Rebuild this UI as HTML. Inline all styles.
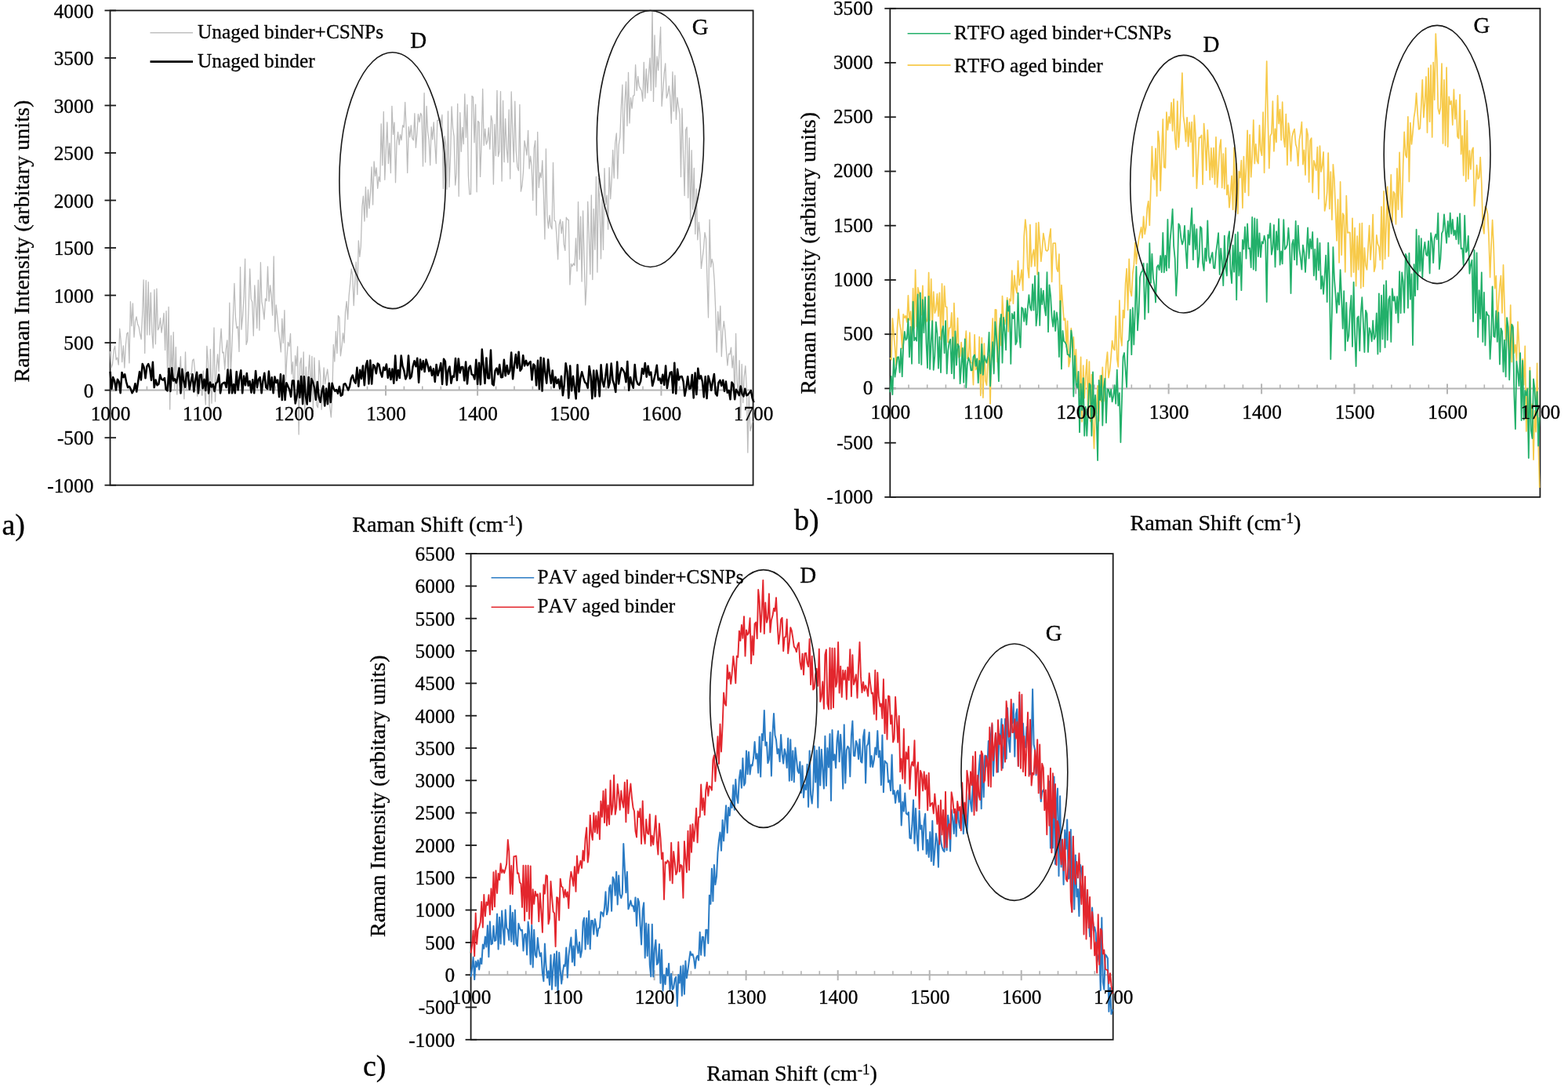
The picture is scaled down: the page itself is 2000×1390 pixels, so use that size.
<!DOCTYPE html>
<html><head><meta charset="utf-8"><title>Raman spectra</title><style>html,body{margin:0;padding:0;background:#fff;}svg{display:block;}text{font-kerning:none;stroke:#000;stroke-width:0.3px;}</style></head><body>
<svg width="2000" height="1390" viewBox="0 0 2000 1390">
<rect width="2000" height="1390" fill="#ffffff"/>
<rect x="140.5" y="13.4" width="820.1" height="605.3" fill="none" stroke="#1a1a1a" stroke-width="1.8"/>
<line x1="133.5" y1="618.7" x2="148.0" y2="618.7" stroke="#1a1a1a" stroke-width="1.8"/>
<line x1="133.5" y1="558.2" x2="148.0" y2="558.2" stroke="#1a1a1a" stroke-width="1.8"/>
<line x1="133.5" y1="497.6" x2="148.0" y2="497.6" stroke="#1a1a1a" stroke-width="1.8"/>
<line x1="133.5" y1="437.1" x2="148.0" y2="437.1" stroke="#1a1a1a" stroke-width="1.8"/>
<line x1="133.5" y1="376.6" x2="148.0" y2="376.6" stroke="#1a1a1a" stroke-width="1.8"/>
<line x1="133.5" y1="316.1" x2="148.0" y2="316.1" stroke="#1a1a1a" stroke-width="1.8"/>
<line x1="133.5" y1="255.5" x2="148.0" y2="255.5" stroke="#1a1a1a" stroke-width="1.8"/>
<line x1="133.5" y1="195.0" x2="148.0" y2="195.0" stroke="#1a1a1a" stroke-width="1.8"/>
<line x1="133.5" y1="134.5" x2="148.0" y2="134.5" stroke="#1a1a1a" stroke-width="1.8"/>
<line x1="133.5" y1="73.9" x2="148.0" y2="73.9" stroke="#1a1a1a" stroke-width="1.8"/>
<line x1="133.5" y1="13.4" x2="148.0" y2="13.4" stroke="#1a1a1a" stroke-width="1.8"/>
<line x1="141.5" y1="497.6" x2="959.6" y2="497.6" stroke="#b4b4b4" stroke-width="2"/>
<line x1="163.9" y1="492.6" x2="163.9" y2="497.6" stroke="#b4b4b4" stroke-width="1.6"/>
<line x1="187.4" y1="492.6" x2="187.4" y2="497.6" stroke="#b4b4b4" stroke-width="1.6"/>
<line x1="210.8" y1="492.6" x2="210.8" y2="497.6" stroke="#b4b4b4" stroke-width="1.6"/>
<line x1="234.2" y1="492.6" x2="234.2" y2="497.6" stroke="#b4b4b4" stroke-width="1.6"/>
<line x1="257.7" y1="491.6" x2="257.7" y2="504.6" stroke="#b4b4b4" stroke-width="2"/>
<line x1="281.1" y1="492.6" x2="281.1" y2="497.6" stroke="#b4b4b4" stroke-width="1.6"/>
<line x1="304.5" y1="492.6" x2="304.5" y2="497.6" stroke="#b4b4b4" stroke-width="1.6"/>
<line x1="328.0" y1="492.6" x2="328.0" y2="497.6" stroke="#b4b4b4" stroke-width="1.6"/>
<line x1="351.4" y1="492.6" x2="351.4" y2="497.6" stroke="#b4b4b4" stroke-width="1.6"/>
<line x1="374.8" y1="491.6" x2="374.8" y2="504.6" stroke="#b4b4b4" stroke-width="2"/>
<line x1="398.2" y1="492.6" x2="398.2" y2="497.6" stroke="#b4b4b4" stroke-width="1.6"/>
<line x1="421.7" y1="492.6" x2="421.7" y2="497.6" stroke="#b4b4b4" stroke-width="1.6"/>
<line x1="445.1" y1="492.6" x2="445.1" y2="497.6" stroke="#b4b4b4" stroke-width="1.6"/>
<line x1="468.5" y1="492.6" x2="468.5" y2="497.6" stroke="#b4b4b4" stroke-width="1.6"/>
<line x1="492.0" y1="491.6" x2="492.0" y2="504.6" stroke="#b4b4b4" stroke-width="2"/>
<line x1="515.4" y1="492.6" x2="515.4" y2="497.6" stroke="#b4b4b4" stroke-width="1.6"/>
<line x1="538.8" y1="492.6" x2="538.8" y2="497.6" stroke="#b4b4b4" stroke-width="1.6"/>
<line x1="562.3" y1="492.6" x2="562.3" y2="497.6" stroke="#b4b4b4" stroke-width="1.6"/>
<line x1="585.7" y1="492.6" x2="585.7" y2="497.6" stroke="#b4b4b4" stroke-width="1.6"/>
<line x1="609.1" y1="491.6" x2="609.1" y2="504.6" stroke="#b4b4b4" stroke-width="2"/>
<line x1="632.6" y1="492.6" x2="632.6" y2="497.6" stroke="#b4b4b4" stroke-width="1.6"/>
<line x1="656.0" y1="492.6" x2="656.0" y2="497.6" stroke="#b4b4b4" stroke-width="1.6"/>
<line x1="679.4" y1="492.6" x2="679.4" y2="497.6" stroke="#b4b4b4" stroke-width="1.6"/>
<line x1="702.9" y1="492.6" x2="702.9" y2="497.6" stroke="#b4b4b4" stroke-width="1.6"/>
<line x1="726.3" y1="491.6" x2="726.3" y2="504.6" stroke="#b4b4b4" stroke-width="2"/>
<line x1="749.7" y1="492.6" x2="749.7" y2="497.6" stroke="#b4b4b4" stroke-width="1.6"/>
<line x1="773.1" y1="492.6" x2="773.1" y2="497.6" stroke="#b4b4b4" stroke-width="1.6"/>
<line x1="796.6" y1="492.6" x2="796.6" y2="497.6" stroke="#b4b4b4" stroke-width="1.6"/>
<line x1="820.0" y1="492.6" x2="820.0" y2="497.6" stroke="#b4b4b4" stroke-width="1.6"/>
<line x1="843.4" y1="491.6" x2="843.4" y2="504.6" stroke="#b4b4b4" stroke-width="2"/>
<line x1="866.9" y1="492.6" x2="866.9" y2="497.6" stroke="#b4b4b4" stroke-width="1.6"/>
<line x1="890.3" y1="492.6" x2="890.3" y2="497.6" stroke="#b4b4b4" stroke-width="1.6"/>
<line x1="913.7" y1="492.6" x2="913.7" y2="497.6" stroke="#b4b4b4" stroke-width="1.6"/>
<line x1="937.2" y1="492.6" x2="937.2" y2="497.6" stroke="#b4b4b4" stroke-width="1.6"/>
<path d="M140.5 448.0L142.0 468.9L143.5 464.5L145.1 446.5L146.6 441.5L148.1 458.8L149.6 456.0L151.2 465.2L152.7 419.2L154.2 434.7L155.7 461.7L157.3 440.9L158.8 469.0L160.3 440.5L161.8 425.5L163.3 423.9L164.9 462.9L166.4 384.7L167.9 415.7L169.4 386.8L171.0 430.0L172.5 409.8L174.0 403.8L175.5 412.9L177.1 416.9L178.6 426.0L180.1 432.7L181.6 401.5L183.1 356.8L184.7 450.4L186.2 357.6L187.7 427.1L189.2 359.7L190.8 427.1L192.3 373.1L193.8 423.2L195.3 443.9L196.9 369.4L198.4 438.8L199.9 368.1L201.4 420.8L202.9 417.9L204.5 405.7L206.0 424.2L207.5 413.7L209.0 399.3L210.6 446.4L212.1 396.7L213.6 474.8L215.1 391.5L216.7 522.0L218.2 427.8L219.7 483.0L221.2 423.6L222.7 496.3L224.3 442.6L225.8 503.1L227.3 468.2L228.8 477.7L230.4 454.6L231.9 499.2L233.4 472.6L234.9 508.7L236.5 448.9L238.0 497.8L239.5 474.8L241.0 480.3L242.5 476.3L244.1 477.6L245.6 459.4L247.1 458.0L248.6 472.9L250.2 489.8L251.7 505.2L253.2 485.5L254.7 497.1L256.3 485.2L257.8 489.0L259.3 472.8L260.8 496.8L262.3 516.0L263.9 441.4L265.4 462.8L266.9 524.3L268.4 445.5L270.0 514.3L271.5 475.6L273.0 417.9L274.5 512.0L276.1 469.7L277.6 451.9L279.1 473.5L280.6 439.2L282.1 419.1L283.7 449.9L285.2 449.1L286.7 471.2L288.2 445.9L289.8 433.8L291.3 480.0L292.8 386.2L294.3 476.1L295.9 440.2L297.4 402.4L298.9 361.4L300.4 404.3L301.9 418.7L303.5 416.4L305.0 448.4L306.5 340.6L308.0 420.2L309.6 402.8L311.1 378.0L312.6 330.2L314.1 439.6L315.6 434.5L317.2 391.4L318.7 342.9L320.2 381.4L321.7 385.1L323.3 428.2L324.8 363.9L326.3 387.5L327.8 418.6L329.4 357.1L330.9 421.2L332.4 334.7L333.9 384.9L335.4 393.1L337.0 407.1L338.5 380.8L340.0 383.7L341.5 339.8L343.1 384.2L344.6 363.9L346.1 376.7L347.6 402.1L349.2 327.0L350.7 422.8L352.2 388.9L353.7 403.4L355.2 420.9L356.8 433.4L358.3 448.9L359.8 406.5L361.3 437.4L362.9 395.7L364.4 485.0L365.9 455.9L367.4 436.4L369.0 441.7L370.5 425.4L372.0 477.0L373.5 461.6L375.0 510.0L376.6 453.6L378.1 466.6L379.6 442.0L381.1 554.0L382.7 463.5L384.2 456.4L385.7 505.1L387.2 448.8L388.8 525.9L390.3 467.9L391.8 511.0L393.3 474.7L394.8 452.8L396.4 506.7L397.9 454.5L399.4 524.4L400.9 456.2L402.5 500.4L404.0 517.0L405.5 519.7L407.0 459.6L408.6 478.1L410.1 522.3L411.6 501.7L413.1 468.9L414.6 489.6L416.2 479.1L417.7 471.0L419.2 486.0L420.7 518.3L422.3 532.0L423.8 505.9L425.3 439.4L426.8 461.0L428.4 422.7L429.9 450.6L431.4 402.5L432.9 405.1L434.4 453.8L436.0 441.7L437.5 425.0L439.0 437.2L440.5 397.9L442.1 384.3L443.6 407.1L445.1 377.0L446.6 361.9L448.2 343.0L449.7 351.0L451.2 389.6L452.7 360.9L454.2 334.2L455.8 375.7L457.3 306.8L458.8 327.4L460.3 314.2L461.9 263.2L463.4 250.1L464.9 282.1L466.4 238.3L468.0 277.2L469.5 242.0L471.0 265.6L472.5 245.7L474.0 213.0L475.6 261.1L477.1 205.9L478.6 224.5L480.1 213.9L481.7 240.3L483.2 225.5L484.7 231.7L486.2 157.8L487.8 210.8L489.3 142.5L490.8 229.3L492.3 193.3L493.8 155.9L495.4 208.5L496.9 182.6L498.4 220.5L499.9 135.3L501.5 171.4L503.0 156.1L504.5 232.8L506.0 182.4L507.6 168.3L509.1 184.6L510.6 171.7L512.1 178.5L513.6 159.9L515.2 162.3L516.7 130.5L518.2 165.0L519.7 220.4L521.3 161.7L522.8 174.9L524.3 160.0L525.8 176.1L527.4 178.8L528.9 144.7L530.4 188.3L531.9 170.4L533.4 145.7L535.0 155.7L536.5 144.3L538.0 147.5L539.5 212.1L541.1 118.6L542.6 206.9L544.1 135.3L545.6 168.0L547.2 179.0L548.7 210.7L550.2 161.8L551.7 177.9L553.2 155.8L554.8 183.8L556.3 208.6L557.8 153.5L559.3 153.5L560.9 150.7L562.4 158.8L563.9 146.5L565.4 240.5L567.0 173.6L568.5 184.5L570.0 241.3L571.5 141.8L573.0 238.4L574.6 198.0L576.1 135.8L577.6 163.5L579.1 173.9L580.7 236.1L582.2 221.4L583.7 132.5L585.2 250.3L586.8 143.6L588.3 193.3L589.8 162.4L591.3 183.7L592.8 120.0L594.4 175.3L595.9 133.6L597.4 224.2L598.9 247.9L600.5 247.7L602.0 122.4L603.5 124.0L605.0 181.8L606.6 133.1L608.1 244.8L609.6 154.5L611.1 156.1L612.6 225.4L614.2 177.7L615.7 113.4L617.2 185.4L618.7 164.3L620.3 184.0L621.8 179.5L623.3 162.8L624.8 190.2L626.4 147.6L627.9 154.4L629.4 235.1L630.9 158.6L632.4 198.7L634.0 115.3L635.5 199.5L637.0 192.8L638.5 116.6L640.1 231.1L641.6 128.5L643.1 206.7L644.6 151.4L646.2 188.6L647.7 207.2L649.2 139.9L650.7 228.0L652.2 117.0L653.8 169.1L655.3 206.6L656.8 129.2L658.3 192.2L659.9 212.9L661.4 217.6L662.9 133.3L664.4 244.1L665.9 237.0L667.5 218.9L669.0 179.3L670.5 187.6L672.0 197.9L673.6 166.3L675.1 215.1L676.6 199.1L678.1 211.0L679.7 255.4L681.2 189.2L682.7 179.3L684.2 274.6L685.7 168.3L687.3 239.3L688.8 220.2L690.3 226.6L691.8 204.7L693.4 247.8L694.9 304.9L696.4 189.8L697.9 275.0L699.5 291.0L701.0 274.6L702.5 288.6L704.0 292.1L705.5 207.4L707.1 281.4L708.6 282.1L710.1 302.8L711.6 330.8L713.2 286.5L714.7 279.9L716.2 297.7L717.7 282.5L719.3 311.6L720.8 319.4L722.3 277.2L723.8 280.0L725.3 280.4L726.9 363.0L728.4 336.5L729.9 339.7L731.4 335.9L733.0 338.5L734.5 303.8L736.0 345.8L737.5 257.5L739.1 330.9L740.6 276.1L742.1 359.0L743.6 268.8L745.1 327.9L746.7 389.0L748.2 362.2L749.7 257.1L751.2 298.1L752.8 349.8L754.3 248.8L755.8 356.5L757.3 266.5L758.9 318.3L760.4 225.3L761.9 347.2L763.4 227.3L764.9 259.7L766.5 330.1L768.0 254.7L769.5 318.6L771.0 214.7L772.6 261.0L774.1 249.2L775.6 292.4L777.1 213.7L778.7 253.7L780.2 229.0L781.7 191.4L783.2 227.1L784.7 182.5L786.3 170.0L787.8 227.8L789.3 184.3L790.8 175.1L792.4 135.6L793.9 108.1L795.4 195.7L796.9 131.6L798.5 104.1L800.0 160.6L801.5 92.5L803.0 157.0L804.5 124.6L806.1 138.2L807.6 122.1L809.1 121.6L810.6 82.7L812.2 115.5L813.7 97.3L815.2 109.7L816.7 112.9L818.3 115.7L819.8 129.2L821.3 79.3L822.8 125.2L824.3 87.9L825.9 118.4L827.4 95.2L828.9 74.2L830.4 115.6L832.0 14.0L833.5 129.4L835.0 44.9L836.5 110.9L838.1 71.8L839.6 89.7L841.1 63.7L842.6 34.5L844.1 135.4L845.7 114.2L847.2 93.7L848.7 80.8L850.2 125.0L851.8 119.8L853.3 109.7L854.8 123.4L856.3 157.3L857.9 91.6L859.4 141.9L860.9 96.1L862.4 152.3L863.9 124.4L865.5 136.3L867.0 146.2L868.5 225.6L870.0 138.2L871.6 198.7L873.1 249.4L874.6 165.9L876.1 162.1L877.7 252.3L879.2 175.8L880.7 288.4L882.2 191.7L883.7 267.0L885.3 214.3L886.8 298.4L888.3 240.9L889.8 305.8L891.4 283.3L892.9 300.0L894.4 342.4L895.9 330.2L897.5 316.9L899.0 296.5L900.5 304.3L902.0 357.6L903.5 405.1L905.1 280.1L906.6 340.7L908.1 330.5L909.6 336.4L911.2 358.1L912.7 395.2L914.2 449.2L915.7 397.3L917.3 421.1L918.8 390.2L920.3 454.6L921.8 422.8L923.3 409.6L924.9 422.5L926.4 446.7L927.9 466.0L929.4 451.2L931.0 451.9L932.5 443.1L934.0 469.0L935.5 453.8L937.1 504.8L938.6 425.4L940.1 486.7L941.6 502.8L943.1 459.7L944.7 533.6L946.2 464.5L947.7 513.6L949.2 480.5L950.8 466.6L952.3 494.3L953.8 577.2L955.3 503.9L956.9 549.6L958.4 543.8L959.9 537.1" fill="none" stroke="#bcbcbc" stroke-width="1.3" stroke-linejoin="round" stroke-opacity="1.0"/>
<path d="M140.5 473.8L142.4 495.9L144.2 481.1L146.1 485.8L148.0 497.4L149.9 483.7L151.7 486.6L153.6 501.2L155.5 474.9L157.4 481.2L159.2 477.3L161.1 487.1L163.0 493.9L164.9 492.7L166.7 496.0L168.6 501.2L170.5 497.7L172.4 489.3L174.2 499.6L176.1 487.0L178.0 474.1L179.9 484.5L181.7 464.0L183.6 468.2L185.5 482.3L187.4 467.1L189.2 464.1L191.1 469.5L193.0 484.9L194.9 461.7L196.7 494.1L198.6 484.6L200.5 491.2L202.4 489.7L204.2 478.1L206.1 483.6L208.0 484.6L209.9 482.0L211.7 496.5L213.6 498.3L215.5 469.9L217.4 499.0L219.2 469.2L221.1 485.6L223.0 483.2L224.9 488.2L226.7 479.9L228.6 469.5L230.5 501.4L232.4 470.7L234.2 485.8L236.1 493.7L238.0 476.0L239.8 474.8L241.7 496.6L243.6 486.1L245.5 477.2L247.3 499.4L249.2 484.4L251.1 474.8L253.0 501.4L254.8 478.4L256.7 477.7L258.6 495.2L260.5 483.8L262.3 498.0L264.2 470.7L266.1 501.4L268.0 487.6L269.8 493.5L271.7 490.0L273.6 499.0L275.5 488.7L277.3 487.1L279.2 477.7L281.1 501.4L283.0 490.0L284.8 488.5L286.7 487.7L288.6 494.0L290.5 471.6L292.3 501.3L294.2 471.8L296.1 501.3L298.0 490.1L299.8 501.3L301.7 474.1L303.6 497.3L305.5 481.8L307.3 472.2L309.2 501.3L311.1 479.6L313.0 491.3L314.8 475.9L316.7 491.9L318.6 486.0L320.5 500.7L322.3 484.3L324.2 501.3L326.1 472.9L328.0 493.9L329.8 484.0L331.7 481.0L333.6 501.3L335.4 485.9L337.3 475.8L339.2 493.9L341.1 496.0L342.9 473.5L344.8 497.0L346.7 481.3L348.6 501.3L350.4 480.4L352.3 487.9L354.2 484.6L356.1 506.2L357.9 477.3L359.8 510.1L361.7 478.8L363.6 510.1L365.4 488.2L367.3 492.6L369.2 496.7L371.1 505.9L372.9 485.5L374.8 485.5L376.7 514.5L378.6 505.7L380.4 485.8L382.3 507.0L384.2 480.1L386.1 515.2L387.9 480.3L389.8 504.7L391.7 515.6L393.6 481.0L395.4 511.7L397.3 483.0L399.2 487.5L401.1 494.8L402.9 509.8L404.8 487.0L406.7 506.2L408.6 512.8L410.4 499.5L412.3 492.4L414.2 517.6L416.1 495.4L417.9 515.3L419.8 488.8L421.7 513.1L423.6 488.7L425.4 495.2L427.3 498.7L429.2 497.0L431.0 501.8L432.9 493.0L434.8 504.7L436.7 503.5L438.5 489.9L440.4 489.3L442.3 493.3L444.2 497.4L446.0 492.7L447.9 482.5L449.8 478.6L451.7 485.8L453.5 488.6L455.4 468.8L457.3 492.7L459.2 471.8L461.0 482.9L462.9 466.6L464.8 491.3L466.7 466.0L468.5 460.1L470.4 489.4L472.3 459.5L474.2 489.6L476.0 465.2L477.9 466.9L479.8 476.2L481.7 463.6L483.5 465.0L485.4 475.0L487.3 480.6L489.2 468.5L491.0 472.0L492.9 464.5L494.8 481.9L496.7 470.3L498.5 484.0L500.4 470.4L502.3 488.8L504.2 453.4L506.0 484.9L507.9 471.9L509.8 482.1L511.7 453.4L513.5 467.0L515.4 472.7L517.3 483.4L519.2 479.1L521.0 453.4L522.9 482.6L524.8 480.2L526.6 467.4L528.5 460.3L530.4 467.2L532.3 456.7L534.1 487.8L536.0 458.5L537.9 471.4L539.8 460.2L541.6 474.0L543.5 458.6L545.4 464.9L547.3 473.5L549.1 467.6L551.0 478.8L552.9 470.3L554.8 486.9L556.6 464.9L558.5 478.8L560.4 472.4L562.3 462.9L564.1 490.0L566.0 457.7L567.9 460.8L569.8 490.7L571.6 472.2L573.5 467.5L575.4 488.7L577.3 479.6L579.1 480.7L581.0 457.1L582.9 484.9L584.8 457.4L586.6 475.4L588.5 468.1L590.4 468.1L592.3 485.3L594.1 461.4L596.0 489.5L597.9 469.2L599.8 466.5L601.6 477.2L603.5 478.4L605.4 483.5L607.3 458.7L609.1 490.1L611.0 462.7L612.9 490.3L614.8 445.5L616.6 466.0L618.5 489.0L620.4 456.4L622.3 482.2L624.1 482.4L626.0 446.6L627.9 489.7L629.7 491.4L631.6 472.6L633.5 469.5L635.4 477.4L637.2 465.1L639.1 481.2L641.0 480.9L642.9 458.8L644.7 479.2L646.6 465.9L648.5 477.0L650.4 472.7L652.2 449.6L654.1 483.3L656.0 466.3L657.9 452.0L659.7 469.3L661.6 448.7L663.5 472.8L665.4 470.0L667.2 453.2L669.1 466.5L671.0 459.9L672.9 466.0L674.7 463.0L676.6 461.2L678.5 484.5L680.4 464.4L682.2 466.3L684.1 491.4L686.0 459.7L687.9 496.1L689.7 455.9L691.6 498.6L693.5 457.0L695.4 475.2L697.2 488.7L699.1 458.5L701.0 476.2L702.9 488.7L704.7 472.4L706.6 493.9L708.5 480.7L710.4 488.9L712.2 483.8L714.1 495.5L716.0 479.8L717.9 504.3L719.7 491.3L721.6 463.3L723.5 473.8L725.3 507.6L727.2 466.5L729.1 498.3L731.0 479.8L732.8 494.2L734.7 508.5L736.6 465.3L738.5 499.4L740.3 482.6L742.2 474.2L744.1 481.4L746.0 487.5L747.8 488.9L749.7 494.6L751.6 466.9L753.5 479.3L755.3 508.2L757.2 472.4L759.1 505.4L761.0 472.4L762.8 482.6L764.7 505.4L766.6 465.3L768.5 486.4L770.3 493.1L772.2 480.7L774.1 464.6L776.0 494.2L777.8 487.7L779.7 463.5L781.6 484.8L783.5 490.9L785.3 500.0L787.2 461.6L789.1 489.5L791.0 476.4L792.8 469.3L794.7 471.9L796.6 475.5L798.5 487.2L800.3 460.9L802.2 497.7L804.1 481.1L806.0 489.2L807.8 494.7L809.7 465.0L811.6 484.6L813.5 489.7L815.3 490.9L817.2 486.1L819.1 470.0L820.9 476.7L822.8 462.9L824.7 480.7L826.6 466.7L828.4 478.3L830.3 474.6L832.2 492.1L834.1 484.6L835.9 476.2L837.8 465.8L839.7 484.6L841.6 482.5L843.4 489.0L845.3 477.7L847.2 490.9L849.1 466.4L850.9 495.1L852.8 483.9L854.7 475.2L856.6 474.3L858.4 501.0L860.3 462.7L862.2 502.0L864.1 470.8L865.9 484.5L867.8 480.2L869.7 480.1L871.6 486.3L873.4 504.8L875.3 495.0L877.2 480.2L879.1 495.8L880.9 495.4L882.8 477.9L884.7 507.4L886.6 475.6L888.4 503.1L890.3 469.8L892.2 483.1L894.1 479.4L895.9 486.6L897.8 506.5L899.7 480.2L901.6 508.1L903.4 479.5L905.3 486.1L907.2 497.8L909.1 486.3L910.9 476.9L912.8 502.1L914.7 504.6L916.5 488.0L918.4 484.9L920.3 491.9L922.2 484.7L924.0 498.9L925.9 486.6L927.8 500.8L929.7 498.0L931.5 509.3L933.4 487.4L935.3 490.2L937.2 509.3L939.0 496.8L940.9 500.0L942.8 504.2L944.7 492.5L946.5 502.1L948.4 505.5L950.3 495.7L952.2 504.3L954.0 503.3L955.9 500.8L957.8 498.1L959.7 507.9L961.5 513.1" fill="none" stroke="#000000" stroke-width="2.5" stroke-linejoin="round" stroke-opacity="1.0"/>
<rect x="1135.3" y="10.8" width="829.1" height="623.1" fill="none" stroke="#1a1a1a" stroke-width="1.8"/>
<line x1="1128.3" y1="633.9" x2="1142.8" y2="633.9" stroke="#1a1a1a" stroke-width="1.8"/>
<line x1="1128.3" y1="564.7" x2="1142.8" y2="564.7" stroke="#1a1a1a" stroke-width="1.8"/>
<line x1="1128.3" y1="495.4" x2="1142.8" y2="495.4" stroke="#1a1a1a" stroke-width="1.8"/>
<line x1="1128.3" y1="426.2" x2="1142.8" y2="426.2" stroke="#1a1a1a" stroke-width="1.8"/>
<line x1="1128.3" y1="357.0" x2="1142.8" y2="357.0" stroke="#1a1a1a" stroke-width="1.8"/>
<line x1="1128.3" y1="287.7" x2="1142.8" y2="287.7" stroke="#1a1a1a" stroke-width="1.8"/>
<line x1="1128.3" y1="218.5" x2="1142.8" y2="218.5" stroke="#1a1a1a" stroke-width="1.8"/>
<line x1="1128.3" y1="149.3" x2="1142.8" y2="149.3" stroke="#1a1a1a" stroke-width="1.8"/>
<line x1="1128.3" y1="80.0" x2="1142.8" y2="80.0" stroke="#1a1a1a" stroke-width="1.8"/>
<line x1="1128.3" y1="10.8" x2="1142.8" y2="10.8" stroke="#1a1a1a" stroke-width="1.8"/>
<line x1="1136.3" y1="495.4" x2="1963.4" y2="495.4" stroke="#b4b4b4" stroke-width="2"/>
<line x1="1159.0" y1="490.4" x2="1159.0" y2="495.4" stroke="#b4b4b4" stroke-width="1.6"/>
<line x1="1182.7" y1="490.4" x2="1182.7" y2="495.4" stroke="#b4b4b4" stroke-width="1.6"/>
<line x1="1206.4" y1="490.4" x2="1206.4" y2="495.4" stroke="#b4b4b4" stroke-width="1.6"/>
<line x1="1230.1" y1="490.4" x2="1230.1" y2="495.4" stroke="#b4b4b4" stroke-width="1.6"/>
<line x1="1253.7" y1="489.4" x2="1253.7" y2="502.4" stroke="#b4b4b4" stroke-width="2"/>
<line x1="1277.4" y1="490.4" x2="1277.4" y2="495.4" stroke="#b4b4b4" stroke-width="1.6"/>
<line x1="1301.1" y1="490.4" x2="1301.1" y2="495.4" stroke="#b4b4b4" stroke-width="1.6"/>
<line x1="1324.8" y1="490.4" x2="1324.8" y2="495.4" stroke="#b4b4b4" stroke-width="1.6"/>
<line x1="1348.5" y1="490.4" x2="1348.5" y2="495.4" stroke="#b4b4b4" stroke-width="1.6"/>
<line x1="1372.2" y1="489.4" x2="1372.2" y2="502.4" stroke="#b4b4b4" stroke-width="2"/>
<line x1="1395.9" y1="490.4" x2="1395.9" y2="495.4" stroke="#b4b4b4" stroke-width="1.6"/>
<line x1="1419.6" y1="490.4" x2="1419.6" y2="495.4" stroke="#b4b4b4" stroke-width="1.6"/>
<line x1="1443.3" y1="490.4" x2="1443.3" y2="495.4" stroke="#b4b4b4" stroke-width="1.6"/>
<line x1="1466.9" y1="490.4" x2="1466.9" y2="495.4" stroke="#b4b4b4" stroke-width="1.6"/>
<line x1="1490.6" y1="489.4" x2="1490.6" y2="502.4" stroke="#b4b4b4" stroke-width="2"/>
<line x1="1514.3" y1="490.4" x2="1514.3" y2="495.4" stroke="#b4b4b4" stroke-width="1.6"/>
<line x1="1538.0" y1="490.4" x2="1538.0" y2="495.4" stroke="#b4b4b4" stroke-width="1.6"/>
<line x1="1561.7" y1="490.4" x2="1561.7" y2="495.4" stroke="#b4b4b4" stroke-width="1.6"/>
<line x1="1585.4" y1="490.4" x2="1585.4" y2="495.4" stroke="#b4b4b4" stroke-width="1.6"/>
<line x1="1609.1" y1="489.4" x2="1609.1" y2="502.4" stroke="#b4b4b4" stroke-width="2"/>
<line x1="1632.8" y1="490.4" x2="1632.8" y2="495.4" stroke="#b4b4b4" stroke-width="1.6"/>
<line x1="1656.4" y1="490.4" x2="1656.4" y2="495.4" stroke="#b4b4b4" stroke-width="1.6"/>
<line x1="1680.1" y1="490.4" x2="1680.1" y2="495.4" stroke="#b4b4b4" stroke-width="1.6"/>
<line x1="1703.8" y1="490.4" x2="1703.8" y2="495.4" stroke="#b4b4b4" stroke-width="1.6"/>
<line x1="1727.5" y1="489.4" x2="1727.5" y2="502.4" stroke="#b4b4b4" stroke-width="2"/>
<line x1="1751.2" y1="490.4" x2="1751.2" y2="495.4" stroke="#b4b4b4" stroke-width="1.6"/>
<line x1="1774.9" y1="490.4" x2="1774.9" y2="495.4" stroke="#b4b4b4" stroke-width="1.6"/>
<line x1="1798.6" y1="490.4" x2="1798.6" y2="495.4" stroke="#b4b4b4" stroke-width="1.6"/>
<line x1="1822.3" y1="490.4" x2="1822.3" y2="495.4" stroke="#b4b4b4" stroke-width="1.6"/>
<line x1="1846.0" y1="489.4" x2="1846.0" y2="502.4" stroke="#b4b4b4" stroke-width="2"/>
<line x1="1869.6" y1="490.4" x2="1869.6" y2="495.4" stroke="#b4b4b4" stroke-width="1.6"/>
<line x1="1893.3" y1="490.4" x2="1893.3" y2="495.4" stroke="#b4b4b4" stroke-width="1.6"/>
<line x1="1917.0" y1="490.4" x2="1917.0" y2="495.4" stroke="#b4b4b4" stroke-width="1.6"/>
<line x1="1940.7" y1="490.4" x2="1940.7" y2="495.4" stroke="#b4b4b4" stroke-width="1.6"/>
<path d="M1135.3 456.2L1136.8 458.8L1138.4 406.0L1139.9 424.2L1141.5 443.2L1143.0 466.0L1144.5 418.4L1146.1 394.3L1147.6 412.4L1149.2 421.4L1150.7 444.5L1152.2 400.8L1153.8 405.2L1155.3 402.8L1156.9 410.8L1158.4 376.9L1159.9 408.2L1161.5 397.0L1163.0 430.1L1164.6 367.8L1166.1 418.7L1167.6 344.0L1169.2 416.3L1170.7 366.7L1172.3 373.5L1173.8 383.4L1175.3 401.7L1176.9 364.3L1178.4 413.6L1180.0 403.4L1181.5 410.4L1183.0 407.3L1184.6 347.7L1186.1 408.6L1187.7 355.8L1189.2 416.9L1190.7 372.0L1192.3 399.1L1193.8 395.2L1195.4 374.8L1196.9 403.3L1198.4 373.3L1200.0 433.0L1201.5 361.9L1203.0 419.3L1204.6 364.9L1206.1 391.2L1207.7 391.5L1209.2 436.6L1210.7 418.4L1212.3 417.7L1213.8 398.9L1215.4 457.0L1216.9 386.7L1218.4 428.3L1220.0 441.6L1221.5 405.7L1223.1 455.8L1224.6 454.3L1226.1 436.5L1227.7 459.5L1229.2 446.2L1230.8 440.9L1232.3 422.2L1233.8 457.3L1235.4 455.5L1236.9 424.2L1238.5 462.5L1240.0 463.0L1241.5 490.7L1243.1 426.9L1244.6 471.6L1246.2 466.2L1247.7 477.8L1249.2 429.6L1250.8 504.4L1252.3 430.9L1253.9 507.2L1255.4 438.1L1256.9 485.6L1258.5 491.2L1260.0 458.6L1261.6 453.0L1263.1 515.0L1264.6 439.1L1266.2 406.1L1267.7 473.2L1269.3 394.9L1270.8 395.0L1272.3 461.8L1273.9 428.4L1275.4 405.9L1277.0 440.7L1278.5 377.6L1280.0 405.9L1281.6 413.6L1283.1 401.0L1284.7 379.5L1286.2 423.0L1287.7 381.3L1289.3 383.7L1290.8 345.0L1292.4 387.2L1293.9 351.3L1295.4 366.6L1297.0 373.6L1298.5 332.6L1300.1 363.7L1301.6 355.7L1303.1 344.2L1304.7 370.5L1306.2 301.3L1307.8 280.0L1309.3 294.7L1310.8 340.9L1312.4 354.2L1313.9 286.7L1315.5 339.9L1317.0 325.1L1318.5 318.4L1320.1 339.4L1321.6 284.6L1323.2 350.1L1324.7 283.7L1326.2 307.4L1327.8 333.3L1329.3 319.0L1330.8 297.7L1332.4 306.7L1333.9 319.0L1335.5 320.1L1337.0 318.3L1338.5 302.4L1340.1 291.9L1341.6 359.5L1343.2 310.4L1344.7 310.2L1346.2 310.1L1347.8 342.3L1349.3 346.3L1350.9 324.2L1352.4 412.7L1353.9 363.6L1355.5 388.3L1357.0 408.3L1358.6 406.1L1360.1 442.4L1361.6 409.3L1363.2 467.7L1364.7 460.3L1366.3 418.5L1367.8 443.5L1369.3 429.9L1370.9 465.8L1372.4 445.5L1374.0 486.8L1375.5 487.4L1377.0 504.3L1378.6 455.4L1380.1 537.8L1381.7 466.1L1383.2 507.6L1384.7 479.1L1386.3 458.6L1387.8 526.1L1389.4 461.1L1390.9 537.4L1392.4 477.7L1394.0 537.3L1395.5 572.0L1397.1 521.9L1398.6 527.4L1400.1 491.8L1401.7 537.0L1403.2 479.0L1404.8 511.9L1406.3 468.4L1407.8 511.6L1409.4 489.1L1410.9 463.9L1412.5 449.0L1414.0 481.6L1415.5 472.8L1417.1 455.2L1418.6 434.5L1420.2 444.4L1421.7 446.4L1423.2 403.2L1424.8 457.9L1426.3 468.0L1427.9 383.0L1429.4 430.0L1430.9 440.8L1432.5 395.7L1434.0 405.3L1435.6 361.4L1437.1 342.7L1438.6 395.4L1440.2 330.3L1441.7 370.9L1443.3 377.5L1444.8 348.8L1446.3 337.9L1447.9 309.6L1449.4 336.7L1451.0 316.6L1452.5 305.2L1454.0 297.7L1455.6 289.8L1457.1 303.3L1458.6 276.0L1460.2 298.6L1461.7 290.1L1463.3 264.9L1464.8 256.6L1466.3 287.4L1467.9 237.4L1469.4 186.9L1471.0 224.6L1472.5 229.0L1474.0 189.4L1475.6 250.1L1477.1 167.3L1478.7 180.6L1480.2 243.2L1481.7 197.5L1483.3 152.2L1484.8 213.0L1486.4 214.1L1487.9 143.1L1489.4 165.7L1491.0 148.9L1492.5 157.1L1494.1 130.8L1495.6 167.0L1497.1 126.3L1498.7 176.5L1500.2 190.7L1501.8 129.1L1503.3 187.9L1504.8 165.9L1506.4 131.9L1507.9 93.0L1509.5 148.7L1511.0 159.4L1512.5 180.5L1514.1 149.8L1515.6 186.7L1517.2 156.0L1518.7 181.2L1520.2 155.7L1521.8 225.1L1523.3 147.2L1524.9 171.0L1526.4 240.3L1527.9 210.5L1529.5 175.4L1531.0 175.5L1532.6 172.4L1534.1 235.3L1535.6 157.5L1537.2 179.9L1538.7 217.2L1540.3 165.9L1541.8 194.6L1543.3 229.3L1544.9 188.9L1546.4 226.2L1548.0 188.7L1549.5 234.9L1551.0 174.8L1552.6 238.9L1554.1 216.2L1555.7 187.1L1557.2 178.1L1558.7 239.5L1560.3 196.1L1561.8 240.8L1563.4 188.7L1564.9 248.4L1566.4 236.1L1568.0 264.7L1569.5 247.3L1571.1 224.4L1572.6 267.3L1574.1 188.3L1575.7 270.3L1577.2 208.9L1578.8 272.6L1580.3 218.5L1581.8 226.6L1583.4 204.6L1584.9 265.2L1586.4 199.6L1588.0 245.5L1589.5 213.5L1591.1 166.3L1592.6 249.4L1594.1 171.9L1595.7 225.8L1597.2 199.7L1598.8 153.0L1600.3 208.6L1601.8 183.8L1603.4 205.1L1604.9 208.5L1606.5 159.9L1608.0 191.6L1609.5 198.2L1611.1 143.1L1612.6 220.3L1614.2 139.6L1615.7 78.0L1617.2 151.5L1618.8 214.6L1620.3 173.3L1621.9 170.2L1623.4 129.0L1624.9 193.0L1626.5 164.4L1628.0 181.3L1629.6 121.9L1631.1 157.7L1632.6 139.6L1634.2 178.7L1635.7 130.2L1637.3 175.8L1638.8 187.4L1640.3 145.6L1641.9 210.6L1643.4 157.1L1645.0 170.8L1646.5 205.3L1648.0 174.7L1649.6 168.2L1651.1 164.6L1652.7 184.0L1654.2 188.6L1655.7 211.5L1657.3 178.4L1658.8 170.0L1660.4 155.6L1661.9 209.7L1663.4 191.4L1665.0 223.1L1666.5 164.0L1668.1 171.6L1669.6 232.3L1671.1 179.1L1672.7 176.1L1674.2 245.6L1675.8 204.8L1677.3 210.3L1678.8 217.1L1680.4 187.6L1681.9 253.7L1683.5 186.2L1685.0 219.0L1686.5 211.7L1688.1 193.9L1689.6 269.0L1691.2 261.0L1692.7 245.2L1694.2 195.1L1695.8 266.5L1697.3 219.0L1698.9 280.3L1700.4 209.8L1701.9 228.2L1703.5 268.0L1705.0 307.0L1706.5 254.4L1708.1 334.9L1709.6 231.9L1711.2 325.2L1712.7 272.2L1714.2 274.6L1715.8 347.0L1717.3 249.6L1718.9 297.0L1720.4 296.4L1721.9 296.7L1723.5 352.8L1725.0 278.3L1726.6 347.3L1728.1 290.7L1729.6 364.8L1731.2 301.0L1732.7 343.9L1734.3 285.2L1735.8 367.3L1737.3 284.5L1738.9 365.5L1740.4 316.0L1742.0 338.2L1743.5 344.0L1745.0 316.4L1746.6 287.5L1748.1 331.1L1749.7 309.6L1751.2 273.6L1752.7 346.3L1754.3 339.6L1755.8 299.9L1757.4 311.4L1758.9 314.9L1760.4 331.7L1762.0 263.7L1763.5 343.1L1765.1 243.8L1766.6 330.3L1768.1 287.0L1769.7 238.0L1771.2 326.9L1772.8 267.0L1774.3 222.9L1775.8 282.9L1777.4 244.4L1778.9 246.9L1780.5 285.9L1782.0 214.9L1783.5 267.2L1785.1 194.4L1786.6 245.9L1788.2 277.1L1789.7 209.6L1791.2 168.4L1792.8 197.6L1794.3 200.8L1795.9 148.9L1797.4 231.6L1798.9 156.5L1800.5 184.0L1802.0 169.3L1803.6 149.3L1805.1 139.8L1806.6 118.8L1808.2 145.8L1809.7 165.0L1811.3 163.6L1812.8 134.6L1814.3 101.8L1815.9 149.8L1817.4 130.9L1819.0 97.8L1820.5 169.2L1822.0 86.9L1823.6 155.2L1825.1 83.2L1826.7 175.0L1828.2 79.5L1829.7 127.4L1831.3 43.0L1832.8 76.1L1834.3 138.2L1835.9 145.3L1837.4 137.0L1839.0 81.1L1840.5 182.9L1842.0 101.9L1843.6 185.7L1845.1 86.1L1846.7 187.2L1848.2 123.3L1849.7 133.2L1851.3 128.8L1852.8 159.4L1854.4 114.2L1855.9 151.8L1857.4 127.7L1859.0 174.0L1860.5 176.6L1862.1 120.7L1863.6 196.7L1865.1 173.1L1866.7 223.8L1868.2 140.8L1869.8 231.3L1871.3 153.8L1872.8 228.2L1874.4 192.1L1875.9 216.0L1877.5 191.8L1879.0 188.3L1880.5 262.6L1882.1 240.4L1883.6 210.6L1885.2 228.1L1886.7 226.2L1888.2 200.5L1889.8 233.7L1891.3 287.7L1892.9 297.9L1894.4 263.4L1895.9 265.7L1897.5 272.6L1899.0 302.2L1900.6 353.7L1902.1 313.1L1903.6 280.7L1905.2 315.1L1906.7 367.8L1908.3 351.9L1909.8 413.1L1911.3 387.8L1912.9 364.8L1914.4 351.6L1916.0 399.1L1917.5 337.9L1919.0 389.6L1920.6 433.7L1922.1 407.7L1923.7 436.6L1925.2 451.4L1926.7 389.0L1928.3 461.7L1929.8 415.0L1931.4 450.1L1932.9 439.6L1934.4 460.2L1936.0 410.3L1937.5 439.5L1939.1 476.4L1940.6 481.4L1942.1 457.9L1943.7 490.8L1945.2 441.4L1946.8 550.0L1948.3 494.8L1949.8 565.0L1951.4 468.5L1952.9 533.7L1954.5 515.3L1956.0 586.3L1957.5 523.9L1959.1 550.8L1960.6 463.3L1962.1 562.2L1963.7 622.0" fill="none" stroke="#f7ca4a" stroke-width="1.7" stroke-linejoin="round" stroke-opacity="1.0"/>
<path d="M1135.3 500.2L1136.8 479.8L1138.4 503.1L1139.9 456.9L1141.5 480.7L1143.0 469.8L1144.5 455.7L1146.1 455.2L1147.6 475.0L1149.2 444.5L1150.7 480.1L1152.2 440.2L1153.8 422.9L1155.3 433.6L1156.9 431.4L1158.4 406.5L1159.9 455.3L1161.5 416.7L1163.0 463.8L1164.6 384.7L1166.1 434.2L1167.6 430.6L1169.2 434.7L1170.7 375.4L1172.3 463.2L1173.8 373.3L1175.3 464.9L1176.9 382.2L1178.4 424.3L1180.0 379.0L1181.5 437.5L1183.0 469.1L1184.6 378.0L1186.1 470.8L1187.7 435.8L1189.2 409.1L1190.7 471.8L1192.3 454.1L1193.8 410.7L1195.4 425.2L1196.9 469.7L1198.4 429.6L1200.0 475.0L1201.5 422.9L1203.0 415.9L1204.6 450.1L1206.1 409.1L1207.7 476.4L1209.2 447.4L1210.7 436.5L1212.3 432.8L1213.8 476.1L1215.4 430.1L1216.9 482.7L1218.4 422.4L1220.0 465.7L1221.5 438.7L1223.1 441.7L1224.6 489.2L1226.1 466.8L1227.7 443.9L1229.2 487.8L1230.8 432.4L1232.3 494.2L1233.8 465.1L1235.4 456.2L1236.9 460.5L1238.5 472.3L1240.0 472.1L1241.5 454.9L1243.1 452.6L1244.6 466.9L1246.2 457.4L1247.7 488.2L1249.2 460.0L1250.8 476.3L1252.3 438.9L1253.9 477.9L1255.4 453.5L1256.9 458.9L1258.5 462.6L1260.0 453.4L1261.6 424.0L1263.1 492.3L1264.6 460.6L1266.2 436.2L1267.7 476.4L1269.3 410.4L1270.8 427.6L1272.3 448.1L1273.9 486.2L1275.4 416.3L1277.0 400.8L1278.5 462.7L1280.0 404.9L1281.6 422.8L1283.1 446.2L1284.7 383.2L1286.2 396.7L1287.7 390.1L1289.3 463.9L1290.8 399.9L1292.4 406.1L1293.9 397.8L1295.4 439.4L1297.0 435.4L1298.5 373.7L1300.1 427.8L1301.6 443.1L1303.1 392.1L1304.7 393.7L1306.2 409.9L1307.8 393.4L1309.3 414.1L1310.8 393.3L1312.4 376.2L1313.9 391.8L1315.5 395.9L1317.0 362.5L1318.5 395.5L1320.1 351.8L1321.6 415.4L1323.2 399.4L1324.7 347.4L1326.2 414.9L1327.8 368.0L1329.3 388.2L1330.8 370.6L1332.4 392.5L1333.9 402.3L1335.5 347.2L1337.0 423.2L1338.5 363.4L1340.1 377.9L1341.6 404.7L1343.2 416.6L1344.7 396.3L1346.2 422.0L1347.8 398.3L1349.3 409.1L1350.9 455.0L1352.4 383.6L1353.9 470.4L1355.5 421.8L1357.0 435.2L1358.6 436.7L1360.1 440.0L1361.6 452.2L1363.2 452.4L1364.7 455.4L1366.3 421.4L1367.8 433.3L1369.3 505.5L1370.9 453.7L1372.4 488.5L1374.0 494.5L1375.5 473.8L1377.0 551.2L1378.6 489.5L1380.1 523.0L1381.7 482.1L1383.2 555.7L1384.7 518.8L1386.3 555.7L1387.8 523.3L1389.4 489.1L1390.9 491.3L1392.4 555.7L1394.0 474.5L1395.5 531.1L1397.1 504.0L1398.6 532.9L1400.1 587.0L1401.7 485.0L1403.2 510.2L1404.8 478.9L1406.3 542.5L1407.8 495.3L1409.4 482.7L1410.9 539.1L1412.5 496.2L1414.0 496.8L1415.5 506.4L1417.1 496.6L1418.6 512.3L1420.2 505.1L1421.7 491.1L1423.2 514.8L1424.8 471.7L1426.3 517.3L1427.9 501.1L1429.4 564.0L1430.9 512.0L1432.5 455.3L1434.0 450.0L1435.6 472.3L1437.1 493.8L1438.6 435.4L1440.2 433.8L1441.7 394.9L1443.3 452.2L1444.8 392.5L1446.3 439.4L1447.9 394.2L1449.4 339.8L1451.0 421.3L1452.5 398.5L1454.0 353.8L1455.6 347.2L1457.1 346.1L1458.6 335.9L1460.2 406.9L1461.7 367.3L1463.3 336.1L1464.8 398.6L1466.3 310.1L1467.9 360.8L1469.4 323.9L1471.0 354.6L1472.5 363.3L1474.0 385.5L1475.6 340.6L1477.1 338.1L1478.7 344.3L1480.2 326.2L1481.7 347.2L1483.3 296.8L1484.8 347.4L1486.4 325.9L1487.9 345.2L1489.4 280.0L1491.0 341.6L1492.5 307.2L1494.1 288.8L1495.6 266.7L1497.1 313.5L1498.7 330.2L1500.2 377.0L1501.8 345.6L1503.3 285.3L1504.8 288.0L1506.4 303.6L1507.9 311.7L1509.5 306.9L1511.0 287.8L1512.5 318.6L1514.1 342.2L1515.6 294.0L1517.2 312.2L1518.7 287.6L1520.2 265.3L1521.8 331.1L1523.3 286.5L1524.9 318.0L1526.4 292.2L1527.9 340.9L1529.5 328.7L1531.0 289.1L1532.6 291.0L1534.1 335.7L1535.6 345.1L1537.2 316.7L1538.7 332.9L1540.3 281.5L1541.8 326.1L1543.3 335.7L1544.9 327.1L1546.4 322.0L1548.0 341.8L1549.5 342.1L1551.0 322.1L1552.6 310.2L1554.1 297.2L1555.7 350.0L1557.2 316.8L1558.7 333.0L1560.3 364.1L1561.8 300.6L1563.4 341.8L1564.9 351.5L1566.4 303.5L1568.0 295.1L1569.5 344.2L1571.1 361.2L1572.6 312.8L1574.1 346.7L1575.7 299.0L1577.2 382.3L1578.8 296.2L1580.3 351.5L1581.8 321.9L1583.4 370.2L1584.9 306.0L1586.4 317.7L1588.0 289.3L1589.5 329.6L1591.1 285.5L1592.6 317.2L1594.1 316.4L1595.7 341.0L1597.2 277.0L1598.8 343.6L1600.3 278.3L1601.8 345.0L1603.4 279.6L1604.9 327.0L1606.5 297.4L1608.0 328.0L1609.5 308.2L1611.1 310.5L1612.6 300.6L1614.2 307.9L1615.7 385.0L1617.2 299.5L1618.8 303.6L1620.3 284.8L1621.9 324.7L1623.4 316.2L1624.9 287.0L1626.5 340.4L1628.0 295.1L1629.6 318.5L1631.1 279.2L1632.6 337.7L1634.2 320.4L1635.7 336.4L1637.3 280.2L1638.8 318.0L1640.3 316.2L1641.9 312.2L1643.4 290.7L1645.0 313.5L1646.5 374.0L1648.0 311.5L1649.6 305.7L1651.1 331.2L1652.7 282.0L1654.2 337.7L1655.7 287.6L1657.3 317.5L1658.8 328.7L1660.4 343.7L1661.9 312.6L1663.4 321.6L1665.0 347.0L1666.5 320.5L1668.1 290.5L1669.6 329.5L1671.1 305.0L1672.7 317.2L1674.2 296.0L1675.8 351.4L1677.3 318.0L1678.8 356.8L1680.4 304.2L1681.9 344.7L1683.5 309.9L1685.0 368.3L1686.5 352.2L1688.1 374.9L1689.6 352.5L1691.2 325.6L1692.7 385.0L1694.2 309.6L1695.8 355.2L1697.3 458.0L1698.9 398.3L1700.4 315.1L1701.9 355.0L1703.5 375.2L1705.0 399.0L1706.5 373.5L1708.1 388.6L1709.6 344.1L1711.2 381.8L1712.7 418.9L1714.2 371.2L1715.8 447.0L1717.3 385.9L1718.9 435.0L1720.4 428.2L1721.9 396.3L1723.5 377.0L1725.0 441.9L1726.6 359.8L1728.1 426.6L1729.6 467.0L1731.2 405.6L1732.7 403.4L1734.3 447.3L1735.8 398.7L1737.3 379.2L1738.9 412.2L1740.4 449.0L1742.0 395.9L1743.5 400.0L1745.0 448.9L1746.6 418.1L1748.1 422.8L1749.7 435.3L1751.2 409.0L1752.7 432.7L1754.3 428.9L1755.8 399.3L1757.4 451.5L1758.9 374.3L1760.4 448.7L1762.0 376.7L1763.5 432.6L1765.1 363.5L1766.6 443.0L1768.1 358.1L1769.7 433.5L1771.2 382.1L1772.8 377.8L1774.3 435.9L1775.8 368.1L1777.4 383.5L1778.9 378.2L1780.5 399.4L1782.0 378.1L1783.5 411.4L1785.1 346.1L1786.6 399.3L1788.2 347.5L1789.7 358.9L1791.2 398.7L1792.8 324.0L1794.3 327.1L1795.9 392.7L1797.4 322.8L1798.9 381.7L1800.5 349.5L1802.0 440.0L1803.6 337.2L1805.1 377.2L1806.6 292.7L1808.2 369.3L1809.7 300.7L1811.3 345.6L1812.8 304.2L1814.3 354.0L1815.9 319.6L1817.4 308.9L1819.0 324.3L1820.5 326.1L1822.0 307.3L1823.6 348.5L1825.1 297.1L1826.7 307.6L1828.2 335.2L1829.7 303.8L1831.3 298.8L1832.8 305.3L1834.3 271.8L1835.9 343.2L1837.4 330.2L1839.0 297.6L1840.5 294.7L1842.0 273.5L1843.6 293.0L1845.1 309.9L1846.7 282.1L1848.2 302.2L1849.7 271.7L1851.3 298.0L1852.8 280.0L1854.4 300.1L1855.9 293.8L1857.4 305.4L1859.0 277.2L1860.5 310.9L1862.1 272.3L1863.6 317.2L1865.1 316.7L1866.7 338.1L1868.2 274.8L1869.8 321.7L1871.3 319.6L1872.8 300.9L1874.4 348.8L1875.9 337.7L1877.5 331.7L1879.0 409.9L1880.5 318.9L1882.1 399.1L1883.6 322.4L1885.2 429.9L1886.7 370.2L1888.2 406.6L1889.8 347.3L1891.3 435.9L1892.9 373.0L1894.4 440.4L1895.9 397.6L1897.5 401.6L1899.0 402.7L1900.6 457.8L1902.1 429.4L1903.6 365.5L1905.2 428.8L1906.7 429.9L1908.3 396.5L1909.8 435.8L1911.3 398.4L1912.9 464.5L1914.4 418.6L1916.0 422.7L1917.5 474.0L1919.0 433.7L1920.6 480.3L1922.1 405.2L1923.7 417.0L1925.2 484.3L1926.7 437.7L1928.3 413.6L1929.8 417.6L1931.4 504.2L1932.9 547.0L1934.4 460.9L1936.0 474.3L1937.5 492.1L1939.1 450.2L1940.6 536.0L1942.1 460.0L1943.7 535.3L1945.2 498.0L1946.8 504.1L1948.3 495.8L1949.8 584.0L1951.4 473.0L1952.9 549.2L1954.5 559.1L1956.0 483.3L1957.5 495.8L1959.1 529.6L1960.6 499.7L1962.1 568.5L1963.7 532.1" fill="none" stroke="#22b06a" stroke-width="1.8" stroke-linejoin="round" stroke-opacity="1.0"/>
<rect x="600.6" y="706.1" width="819.1" height="619.7" fill="none" stroke="#1a1a1a" stroke-width="1.8"/>
<line x1="593.6" y1="1325.8" x2="608.1" y2="1325.8" stroke="#1a1a1a" stroke-width="1.8"/>
<line x1="593.6" y1="1284.5" x2="608.1" y2="1284.5" stroke="#1a1a1a" stroke-width="1.8"/>
<line x1="593.6" y1="1243.2" x2="608.1" y2="1243.2" stroke="#1a1a1a" stroke-width="1.8"/>
<line x1="593.6" y1="1201.9" x2="608.1" y2="1201.9" stroke="#1a1a1a" stroke-width="1.8"/>
<line x1="593.6" y1="1160.5" x2="608.1" y2="1160.5" stroke="#1a1a1a" stroke-width="1.8"/>
<line x1="593.6" y1="1119.2" x2="608.1" y2="1119.2" stroke="#1a1a1a" stroke-width="1.8"/>
<line x1="593.6" y1="1077.9" x2="608.1" y2="1077.9" stroke="#1a1a1a" stroke-width="1.8"/>
<line x1="593.6" y1="1036.6" x2="608.1" y2="1036.6" stroke="#1a1a1a" stroke-width="1.8"/>
<line x1="593.6" y1="995.3" x2="608.1" y2="995.3" stroke="#1a1a1a" stroke-width="1.8"/>
<line x1="593.6" y1="954.0" x2="608.1" y2="954.0" stroke="#1a1a1a" stroke-width="1.8"/>
<line x1="593.6" y1="912.7" x2="608.1" y2="912.7" stroke="#1a1a1a" stroke-width="1.8"/>
<line x1="593.6" y1="871.4" x2="608.1" y2="871.4" stroke="#1a1a1a" stroke-width="1.8"/>
<line x1="593.6" y1="830.0" x2="608.1" y2="830.0" stroke="#1a1a1a" stroke-width="1.8"/>
<line x1="593.6" y1="788.7" x2="608.1" y2="788.7" stroke="#1a1a1a" stroke-width="1.8"/>
<line x1="593.6" y1="747.4" x2="608.1" y2="747.4" stroke="#1a1a1a" stroke-width="1.8"/>
<line x1="593.6" y1="706.1" x2="608.1" y2="706.1" stroke="#1a1a1a" stroke-width="1.8"/>
<line x1="601.6" y1="1243.2" x2="1418.7" y2="1243.2" stroke="#b4b4b4" stroke-width="2"/>
<line x1="624.0" y1="1238.2" x2="624.0" y2="1243.2" stroke="#b4b4b4" stroke-width="1.6"/>
<line x1="647.4" y1="1238.2" x2="647.4" y2="1243.2" stroke="#b4b4b4" stroke-width="1.6"/>
<line x1="670.8" y1="1238.2" x2="670.8" y2="1243.2" stroke="#b4b4b4" stroke-width="1.6"/>
<line x1="694.2" y1="1238.2" x2="694.2" y2="1243.2" stroke="#b4b4b4" stroke-width="1.6"/>
<line x1="717.6" y1="1237.2" x2="717.6" y2="1250.2" stroke="#b4b4b4" stroke-width="2"/>
<line x1="741.0" y1="1238.2" x2="741.0" y2="1243.2" stroke="#b4b4b4" stroke-width="1.6"/>
<line x1="764.4" y1="1238.2" x2="764.4" y2="1243.2" stroke="#b4b4b4" stroke-width="1.6"/>
<line x1="787.8" y1="1238.2" x2="787.8" y2="1243.2" stroke="#b4b4b4" stroke-width="1.6"/>
<line x1="811.2" y1="1238.2" x2="811.2" y2="1243.2" stroke="#b4b4b4" stroke-width="1.6"/>
<line x1="834.6" y1="1237.2" x2="834.6" y2="1250.2" stroke="#b4b4b4" stroke-width="2"/>
<line x1="858.0" y1="1238.2" x2="858.0" y2="1243.2" stroke="#b4b4b4" stroke-width="1.6"/>
<line x1="881.4" y1="1238.2" x2="881.4" y2="1243.2" stroke="#b4b4b4" stroke-width="1.6"/>
<line x1="904.8" y1="1238.2" x2="904.8" y2="1243.2" stroke="#b4b4b4" stroke-width="1.6"/>
<line x1="928.2" y1="1238.2" x2="928.2" y2="1243.2" stroke="#b4b4b4" stroke-width="1.6"/>
<line x1="951.6" y1="1237.2" x2="951.6" y2="1250.2" stroke="#b4b4b4" stroke-width="2"/>
<line x1="975.0" y1="1238.2" x2="975.0" y2="1243.2" stroke="#b4b4b4" stroke-width="1.6"/>
<line x1="998.4" y1="1238.2" x2="998.4" y2="1243.2" stroke="#b4b4b4" stroke-width="1.6"/>
<line x1="1021.9" y1="1238.2" x2="1021.9" y2="1243.2" stroke="#b4b4b4" stroke-width="1.6"/>
<line x1="1045.3" y1="1238.2" x2="1045.3" y2="1243.2" stroke="#b4b4b4" stroke-width="1.6"/>
<line x1="1068.7" y1="1237.2" x2="1068.7" y2="1250.2" stroke="#b4b4b4" stroke-width="2"/>
<line x1="1092.1" y1="1238.2" x2="1092.1" y2="1243.2" stroke="#b4b4b4" stroke-width="1.6"/>
<line x1="1115.5" y1="1238.2" x2="1115.5" y2="1243.2" stroke="#b4b4b4" stroke-width="1.6"/>
<line x1="1138.9" y1="1238.2" x2="1138.9" y2="1243.2" stroke="#b4b4b4" stroke-width="1.6"/>
<line x1="1162.3" y1="1238.2" x2="1162.3" y2="1243.2" stroke="#b4b4b4" stroke-width="1.6"/>
<line x1="1185.7" y1="1237.2" x2="1185.7" y2="1250.2" stroke="#b4b4b4" stroke-width="2"/>
<line x1="1209.1" y1="1238.2" x2="1209.1" y2="1243.2" stroke="#b4b4b4" stroke-width="1.6"/>
<line x1="1232.5" y1="1238.2" x2="1232.5" y2="1243.2" stroke="#b4b4b4" stroke-width="1.6"/>
<line x1="1255.9" y1="1238.2" x2="1255.9" y2="1243.2" stroke="#b4b4b4" stroke-width="1.6"/>
<line x1="1279.3" y1="1238.2" x2="1279.3" y2="1243.2" stroke="#b4b4b4" stroke-width="1.6"/>
<line x1="1302.7" y1="1237.2" x2="1302.7" y2="1250.2" stroke="#b4b4b4" stroke-width="2"/>
<line x1="1326.1" y1="1238.2" x2="1326.1" y2="1243.2" stroke="#b4b4b4" stroke-width="1.6"/>
<line x1="1349.5" y1="1238.2" x2="1349.5" y2="1243.2" stroke="#b4b4b4" stroke-width="1.6"/>
<line x1="1372.9" y1="1238.2" x2="1372.9" y2="1243.2" stroke="#b4b4b4" stroke-width="1.6"/>
<line x1="1396.3" y1="1238.2" x2="1396.3" y2="1243.2" stroke="#b4b4b4" stroke-width="1.6"/>
<path d="M600.6 1245.7L602.1 1234.3L603.6 1220.5L605.2 1249.1L606.7 1225.9L608.2 1232.9L609.7 1224.5L611.2 1236.4L612.8 1222.2L614.3 1229.3L615.8 1204.6L617.3 1209.6L618.9 1194.4L620.4 1207.4L621.9 1180.3L623.4 1220.3L624.9 1175.3L626.5 1204.3L628.0 1203.1L629.5 1180.8L631.0 1199.9L632.5 1198.9L634.1 1165.4L635.6 1210.4L637.1 1169.7L638.6 1203.5L640.2 1161.6L641.7 1184.5L643.2 1204.7L644.7 1160.3L646.2 1183.2L647.8 1186.0L649.3 1198.7L650.8 1155.1L652.3 1200.7L653.8 1163.8L655.4 1204.3L656.9 1160.4L658.4 1202.8L659.9 1206.4L661.4 1177.7L663.0 1183.7L664.5 1186.6L666.0 1185.9L667.5 1212.4L669.1 1191.9L670.6 1190.9L672.1 1217.4L673.6 1175.6L675.1 1188.6L676.7 1229.8L678.2 1179.7L679.7 1233.4L681.2 1185.7L682.7 1217.5L684.3 1220.8L685.8 1196.0L687.3 1210.6L688.8 1219.3L690.3 1215.2L691.9 1240.8L693.4 1251.2L694.9 1203.6L696.4 1230.3L698.0 1247.0L699.5 1238.2L701.0 1256.0L702.5 1218.1L704.0 1261.8L705.6 1232.0L707.1 1216.4L708.6 1257.5L710.1 1213.3L711.6 1268.0L713.2 1214.7L714.7 1237.8L716.2 1254.4L717.7 1240.4L719.3 1230.4L720.8 1232.1L722.3 1208.6L723.8 1246.6L725.3 1219.5L726.9 1206.0L728.4 1195.6L729.9 1226.7L731.4 1206.5L732.9 1231.3L734.5 1185.8L736.0 1204.5L737.5 1215.5L739.0 1201.5L740.5 1220.7L742.1 1212.3L743.6 1175.8L745.1 1170.5L746.6 1210.4L748.2 1170.7L749.7 1204.0L751.2 1161.8L752.7 1210.1L754.2 1174.1L755.8 1174.1L757.3 1191.4L758.8 1171.9L760.3 1179.6L761.8 1193.8L763.4 1183.9L764.9 1183.0L766.4 1163.1L767.9 1163.8L769.5 1168.6L771.0 1157.7L772.5 1137.2L774.0 1166.3L775.5 1160.6L777.1 1132.3L778.6 1128.6L780.1 1161.8L781.6 1118.5L783.1 1121.5L784.7 1141.8L786.2 1111.7L787.7 1153.4L789.2 1116.5L790.7 1140.6L792.3 1145.2L793.8 1140.0L795.3 1076.0L796.8 1106.5L798.4 1138.3L799.9 1111.8L801.4 1159.3L802.9 1155.0L804.4 1148.5L806.0 1155.3L807.5 1155.3L809.0 1162.3L810.5 1144.4L812.0 1180.7L813.6 1145.9L815.1 1150.6L816.6 1179.1L818.1 1204.4L819.7 1160.7L821.2 1151.3L822.7 1221.5L824.2 1177.4L825.7 1219.0L827.3 1178.7L828.8 1230.6L830.3 1245.3L831.8 1178.7L833.3 1245.4L834.9 1210.1L836.4 1198.7L837.9 1230.0L839.4 1227.4L840.9 1204.0L842.5 1253.8L844.0 1211.3L845.5 1263.5L847.0 1243.2L848.6 1255.2L850.1 1234.8L851.6 1244.2L853.1 1228.8L854.6 1263.3L856.2 1241.8L857.7 1261.8L859.2 1259.8L860.7 1248.6L862.2 1245.9L863.8 1283.0L865.3 1242.9L866.8 1253.4L868.3 1232.3L869.8 1269.8L871.4 1231.2L872.9 1267.7L874.4 1225.5L875.9 1247.3L877.5 1236.1L879.0 1224.5L880.5 1213.5L882.0 1218.1L883.5 1216.7L885.1 1222.5L886.6 1234.8L888.1 1221.3L889.6 1218.9L891.1 1224.6L892.7 1188.8L894.2 1217.7L895.7 1194.8L897.2 1194.9L898.8 1219.0L900.3 1185.7L901.8 1185.8L903.3 1202.9L904.8 1141.7L906.4 1152.8L907.9 1107.7L909.4 1149.1L910.9 1102.9L912.4 1128.1L914.0 1117.6L915.5 1087.1L917.0 1071.7L918.5 1061.5L920.0 1084.8L921.6 1045.8L923.1 1072.3L924.6 1048.1L926.1 1027.3L927.7 1062.0L929.2 1029.8L930.7 1040.1L932.2 1023.6L933.7 1030.0L935.3 1001.2L936.8 1032.7L938.3 994.0L939.8 1015.7L941.3 1024.0L942.9 992.6L944.4 982.1L945.9 1004.7L947.4 967.0L949.0 1001.7L950.5 998.4L952.0 957.6L953.5 987.3L955.0 958.9L956.6 987.5L958.1 975.3L959.6 976.4L961.1 966.0L962.6 946.0L964.2 967.6L965.7 961.2L967.2 985.6L968.7 939.4L970.2 990.5L971.8 936.1L973.3 944.1L974.8 906.0L976.3 950.7L977.9 946.6L979.4 973.1L980.9 968.4L982.4 934.1L983.9 989.4L985.5 934.7L987.0 910.0L988.5 937.5L990.0 943.4L991.5 960.9L993.1 955.1L994.6 971.1L996.1 937.0L997.6 961.4L999.2 973.6L1000.7 955.3L1002.2 961.7L1003.7 978.9L1005.2 941.4L1006.8 995.7L1008.3 943.2L1009.8 994.9L1011.3 957.6L1012.8 997.3L1014.4 953.4L1015.9 967.8L1017.4 982.9L1018.9 985.9L1020.4 971.4L1022.0 1011.0L1023.5 976.6L1025.0 1017.0L1026.5 1001.0L1028.1 1007.0L1029.6 974.7L1031.1 1028.9L1032.6 957.4L1034.1 1013.3L1035.7 1024.6L1037.2 1004.6L1038.7 951.4L1040.2 997.5L1041.7 957.1L1043.3 1029.7L1044.8 952.7L1046.3 1001.4L1047.8 955.7L1049.3 980.5L1050.9 1005.6L1052.4 938.8L1053.9 1002.0L1055.4 954.0L1057.0 978.5L1058.5 936.1L1060.0 1021.1L1061.5 930.9L1063.0 969.6L1064.6 962.2L1066.1 979.2L1067.6 944.7L1069.1 932.2L1070.6 971.2L1072.2 936.8L1073.7 960.4L1075.2 1005.7L1076.7 924.3L1078.3 998.5L1079.8 956.8L1081.3 951.8L1082.8 954.1L1084.3 990.2L1085.9 938.0L1087.4 919.6L1088.9 963.7L1090.4 964.1L1091.9 944.9L1093.5 949.3L1095.0 967.9L1096.5 942.7L1098.0 971.1L1099.5 972.6L1101.1 939.5L1102.6 930.6L1104.1 998.4L1105.6 951.2L1107.2 948.4L1108.7 934.0L1110.2 977.8L1111.7 963.9L1113.2 978.1L1114.8 969.3L1116.3 953.5L1117.8 962.3L1119.3 932.1L1120.8 965.6L1122.4 957.5L1123.9 1001.1L1125.4 937.4L1126.9 1010.3L1128.5 970.3L1130.0 972.2L1131.5 973.7L1133.0 997.4L1134.5 995.2L1136.1 1008.2L1137.6 962.6L1139.1 1012.6L1140.6 1008.2L1142.1 1023.9L1143.7 1010.4L1145.2 1008.1L1146.7 1022.7L1148.2 1001.1L1149.7 1052.5L1151.3 1022.6L1152.8 1034.4L1154.3 1011.5L1155.8 1037.2L1157.4 1038.8L1158.9 1035.8L1160.4 1068.6L1161.9 1069.3L1163.4 1052.2L1165.0 1020.2L1166.5 1075.6L1168.0 1031.1L1169.5 1064.8L1171.0 1084.7L1172.6 1034.1L1174.1 1057.4L1175.6 1052.7L1177.1 1083.5L1178.7 1047.9L1180.2 1037.7L1181.7 1088.9L1183.2 1071.1L1184.7 1092.9L1186.3 1061.0L1187.8 1098.3L1189.3 1046.8L1190.8 1103.2L1192.3 1086.0L1193.9 1063.1L1195.4 1072.7L1196.9 1105.7L1198.4 1047.7L1199.9 1071.2L1201.5 1080.0L1203.0 1084.4L1204.5 1086.1L1206.0 1052.7L1207.6 1084.3L1209.1 1039.7L1210.6 1051.2L1212.1 1085.4L1213.6 1032.5L1215.2 1044.2L1216.7 1062.9L1218.2 1034.4L1219.7 1066.4L1221.2 1025.0L1222.8 1047.0L1224.3 1055.9L1225.8 1038.3L1227.3 1024.6L1228.8 1063.3L1230.4 1040.0L1231.9 1026.1L1233.4 1062.2L1234.9 1032.5L1236.5 1000.5L1238.0 1024.2L1239.5 1034.7L1241.0 994.0L1242.5 994.5L1244.1 1017.6L1245.6 1033.4L1247.1 1003.7L1248.6 979.8L1250.1 963.0L1251.7 1031.2L1253.2 964.1L1254.7 1016.5L1256.2 963.6L1257.8 970.3L1259.3 977.9L1260.8 945.1L1262.3 957.6L1263.8 938.2L1265.4 924.3L1266.9 989.6L1268.4 959.6L1269.9 936.0L1271.4 948.4L1273.0 984.5L1274.5 935.9L1276.0 942.0L1277.5 916.8L1279.0 979.4L1280.6 949.5L1282.1 916.7L1283.6 967.5L1285.1 903.0L1286.7 944.8L1288.2 958.9L1289.7 915.7L1291.2 922.3L1292.7 897.2L1294.3 964.7L1295.8 910.5L1297.3 904.2L1298.8 976.7L1300.3 886.2L1301.9 940.3L1303.4 942.1L1304.9 922.4L1306.4 947.0L1308.0 953.2L1309.5 927.1L1311.0 930.4L1312.5 953.6L1314.0 987.4L1315.6 948.3L1317.1 879.0L1318.6 949.5L1320.1 956.3L1321.6 988.4L1323.2 969.2L1324.7 976.3L1326.2 987.2L1327.7 1022.0L1329.2 1010.6L1330.8 1007.3L1332.3 1011.5L1333.8 1030.5L1335.3 1031.4L1336.9 1027.1L1338.4 996.6L1339.9 1081.5L1341.4 1051.2L1342.9 1081.3L1344.5 990.5L1346.0 1102.1L1347.5 1024.5L1349.0 1005.4L1350.5 1117.1L1352.1 1015.3L1353.6 1105.6L1355.1 1070.9L1356.6 1128.0L1358.2 1058.4L1359.7 1082.8L1361.2 1045.2L1362.7 1120.6L1364.2 1119.5L1365.8 1058.1L1367.3 1163.0L1368.8 1066.7L1370.3 1159.6L1371.8 1090.4L1373.4 1143.5L1374.9 1133.9L1376.4 1168.3L1377.9 1102.7L1379.4 1108.1L1381.0 1125.6L1382.5 1150.2L1384.0 1131.9L1385.5 1162.3L1387.1 1160.0L1388.6 1172.5L1390.1 1194.3L1391.6 1180.4L1393.1 1157.6L1394.7 1186.4L1396.2 1182.3L1397.7 1190.1L1399.2 1227.4L1400.7 1220.5L1402.3 1214.0L1403.8 1263.1L1405.3 1170.2L1406.8 1252.7L1408.3 1261.7L1409.9 1217.3L1411.4 1219.2L1412.9 1221.9L1414.4 1289.9L1416.0 1259.8L1417.5 1293.2L1419.0 1287.3" fill="none" stroke="#2a7bc4" stroke-width="2.0" stroke-linejoin="round" stroke-opacity="1.0"/>
<path d="M600.6 1215.4L602.1 1205.2L603.6 1186.6L605.2 1219.3L606.7 1164.5L608.2 1203.9L609.7 1185.5L611.2 1182.0L612.8 1175.7L614.3 1149.9L615.8 1182.6L617.3 1141.0L618.9 1168.3L620.4 1150.5L621.9 1154.4L623.4 1141.3L624.9 1166.3L626.5 1133.3L628.0 1160.2L629.5 1112.2L631.0 1156.3L632.5 1110.1L634.1 1139.0L635.6 1113.9L637.1 1122.2L638.6 1101.1L640.2 1113.0L641.7 1109.3L643.2 1113.3L644.7 1108.1L646.2 1101.5L647.8 1071.0L649.3 1085.8L650.8 1139.8L652.3 1103.9L653.8 1140.3L655.4 1092.1L656.9 1092.0L658.4 1091.5L659.9 1113.8L661.4 1113.5L663.0 1125.5L664.5 1126.9L666.0 1156.9L667.5 1103.8L669.1 1174.1L670.6 1103.8L672.1 1162.2L673.6 1103.7L675.1 1171.7L676.7 1104.4L678.2 1178.1L679.7 1134.1L681.2 1152.8L682.7 1136.7L684.3 1142.8L685.8 1140.3L687.3 1175.1L688.8 1139.3L690.3 1161.1L691.9 1188.9L693.4 1128.2L694.9 1139.8L696.4 1116.1L698.0 1117.0L699.5 1178.3L701.0 1171.4L702.5 1123.9L704.0 1143.5L705.6 1162.6L707.1 1164.5L708.6 1207.0L710.1 1144.2L711.6 1145.1L713.2 1173.5L714.7 1120.6L716.2 1130.5L717.7 1131.5L719.3 1144.5L720.8 1134.4L722.3 1143.6L723.8 1137.4L725.3 1158.3L726.9 1124.0L728.4 1111.6L729.9 1119.3L731.4 1129.9L732.9 1105.1L734.5 1136.9L736.0 1091.5L737.5 1113.7L739.0 1104.2L740.5 1097.6L742.1 1107.0L743.6 1084.6L745.1 1097.6L746.6 1069.6L748.2 1055.4L749.7 1099.6L751.2 1088.2L752.7 1039.6L754.2 1062.4L755.8 1071.1L757.3 1036.7L758.8 1061.1L760.3 1040.2L761.8 1062.8L763.4 1035.1L764.9 1070.2L766.4 1021.8L767.9 1041.7L769.5 1008.7L771.0 1049.0L772.5 1006.5L774.0 1052.7L775.5 1027.0L777.1 1051.2L778.6 995.3L780.1 1038.8L781.6 1028.2L783.1 988.5L784.7 1038.6L786.2 1030.0L787.7 999.9L789.2 1012.3L790.7 1032.7L792.3 1008.5L793.8 1022.6L795.3 1029.7L796.8 997.8L798.4 1048.2L799.9 994.6L801.4 1037.3L802.9 1012.7L804.4 999.5L806.0 1017.8L807.5 1030.0L809.0 1034.5L810.5 1059.7L812.0 1067.6L813.6 1034.4L815.1 1042.0L816.6 1031.1L818.1 1076.0L819.7 1021.5L821.2 1063.9L822.7 1075.9L824.2 1045.0L825.7 1062.3L827.3 1063.8L828.8 1038.4L830.3 1078.6L831.8 1065.6L833.3 1077.1L834.9 1058.3L836.4 1040.2L837.9 1073.2L839.4 1089.6L840.9 1050.3L842.5 1068.9L844.0 1095.5L845.5 1087.5L847.0 1147.0L848.6 1099.2L850.1 1100.8L851.6 1097.2L853.1 1099.3L854.6 1122.8L856.2 1074.6L857.7 1126.4L859.2 1086.0L860.7 1099.2L862.2 1115.2L863.8 1111.3L865.3 1073.8L866.8 1111.5L868.3 1103.0L869.8 1104.3L871.4 1145.0L872.9 1073.0L874.4 1094.9L875.9 1112.3L877.5 1059.6L879.0 1109.5L880.5 1052.1L882.0 1086.8L883.5 1050.9L885.1 1072.9L886.6 1055.8L888.1 1030.8L889.6 1074.4L891.1 1041.9L892.7 1041.9L894.2 1000.5L895.7 1033.1L897.2 1017.9L898.8 1039.1L900.3 1007.4L901.8 997.6L903.3 1014.9L904.8 1002.5L906.4 1003.5L907.9 1007.7L909.4 969.0L910.9 963.1L912.4 996.3L914.0 970.4L915.5 939.2L917.0 973.9L918.5 923.4L920.0 958.5L921.6 925.5L923.1 883.4L924.6 897.1L926.1 899.7L927.7 848.3L929.2 865.8L930.7 857.4L932.2 872.1L933.7 858.3L935.3 836.9L936.8 850.8L938.3 871.2L939.8 836.8L941.3 838.0L942.9 804.6L944.4 817.1L945.9 797.0L947.4 813.8L949.0 786.1L950.5 836.6L952.0 803.4L953.5 809.6L955.0 807.2L956.6 788.3L958.1 846.2L959.6 811.1L961.1 835.1L962.6 795.5L964.2 793.5L965.7 814.2L967.2 752.0L968.7 766.9L970.2 805.9L971.8 777.0L973.3 740.0L974.8 808.0L976.3 768.4L977.9 793.7L979.4 788.2L980.9 757.1L982.4 806.4L983.9 790.7L985.5 785.1L987.0 775.6L988.5 779.5L990.0 762.1L991.5 793.3L993.1 821.1L994.6 809.1L996.1 790.1L997.6 787.7L999.2 830.2L1000.7 812.7L1002.2 812.2L1003.7 789.7L1005.2 833.2L1006.8 819.3L1008.3 800.2L1009.8 804.1L1011.3 813.7L1012.8 824.7L1014.4 826.5L1015.9 831.4L1017.4 822.7L1018.9 819.5L1020.4 844.3L1022.0 853.6L1023.5 833.6L1025.0 860.4L1026.5 833.2L1028.1 832.8L1029.6 845.8L1031.1 850.1L1032.6 814.9L1034.1 873.0L1035.7 836.8L1037.2 879.5L1038.7 877.7L1040.2 860.2L1041.7 852.8L1043.3 874.8L1044.8 827.6L1046.3 894.7L1047.8 888.3L1049.3 869.3L1050.9 903.7L1052.4 835.0L1053.9 828.4L1055.4 897.3L1057.0 904.6L1058.5 826.2L1060.0 904.1L1061.5 826.6L1063.0 902.2L1064.6 826.8L1066.1 875.9L1067.6 869.7L1069.1 819.0L1070.6 883.6L1072.2 849.8L1073.7 888.9L1075.2 854.7L1076.7 866.7L1078.3 855.0L1079.8 891.8L1081.3 850.9L1082.8 867.2L1084.3 828.1L1085.9 888.0L1087.4 835.3L1088.9 872.9L1090.4 868.0L1091.9 860.2L1093.5 889.9L1095.0 850.4L1096.5 819.0L1098.0 862.9L1099.5 883.1L1101.1 869.6L1102.6 881.0L1104.1 874.2L1105.6 878.3L1107.2 887.8L1108.7 858.5L1110.2 872.4L1111.7 884.3L1113.2 883.6L1114.8 910.5L1116.3 854.7L1117.8 917.8L1119.3 857.7L1120.8 888.1L1122.4 900.7L1123.9 897.4L1125.4 916.0L1126.9 866.3L1128.5 935.1L1130.0 892.0L1131.5 942.8L1133.0 887.5L1134.5 888.1L1136.1 923.2L1137.6 912.2L1139.1 946.4L1140.6 942.0L1142.1 888.7L1143.7 917.6L1145.2 946.6L1146.7 913.0L1148.2 984.2L1149.7 967.5L1151.3 993.0L1152.8 929.4L1154.3 998.7L1155.8 959.1L1157.4 967.8L1158.9 952.0L1160.4 1006.3L1161.9 978.6L1163.4 971.6L1165.0 976.7L1166.5 944.2L1168.0 1014.6L1169.5 980.7L1171.0 972.2L1172.6 1031.2L1174.1 982.7L1175.6 987.2L1177.1 1008.4L1178.7 984.1L1180.2 1006.6L1181.7 988.4L1183.2 1033.3L1184.7 985.7L1186.3 1028.0L1187.8 1024.8L1189.3 1023.8L1190.8 1037.3L1192.3 1012.4L1193.9 1030.3L1195.4 1050.7L1196.9 1027.2L1198.4 1076.6L1199.9 1020.5L1201.5 1064.4L1203.0 1032.9L1204.5 1080.8L1206.0 1009.7L1207.6 1080.6L1209.1 1056.0L1210.6 1050.8L1212.1 1069.9L1213.6 1010.1L1215.2 1019.0L1216.7 1036.5L1218.2 1031.7L1219.7 1049.7L1221.2 1021.9L1222.8 1033.5L1224.3 1029.0L1225.8 1059.0L1227.3 998.2L1228.8 1037.5L1230.4 1023.4L1231.9 1052.0L1233.4 982.8L1234.9 993.5L1236.5 1019.1L1238.0 984.1L1239.5 1001.2L1241.0 964.4L1242.5 1039.4L1244.1 958.6L1245.6 1034.1L1247.1 988.7L1248.6 1014.6L1250.1 1020.1L1251.7 957.9L1253.2 961.9L1254.7 997.8L1256.2 994.9L1257.8 963.7L1259.3 970.1L1260.8 1002.4L1262.3 927.5L1263.8 1003.4L1265.4 922.3L1266.9 969.7L1268.4 950.6L1269.9 934.7L1271.4 984.8L1273.0 918.3L1274.5 949.2L1276.0 937.7L1277.5 982.2L1279.0 924.3L1280.6 942.7L1282.1 971.6L1283.6 894.3L1285.1 912.8L1286.7 939.7L1288.2 939.0L1289.7 891.9L1291.2 934.0L1292.7 933.7L1294.3 917.2L1295.8 941.7L1297.3 920.7L1298.8 977.0L1300.3 882.6L1301.9 979.7L1303.4 885.7L1304.9 984.1L1306.4 938.9L1308.0 989.1L1309.5 950.5L1311.0 908.5L1312.5 989.8L1314.0 917.6L1315.6 1001.6L1317.1 985.7L1318.6 987.7L1320.1 956.8L1321.6 986.5L1323.2 943.3L1324.7 1011.4L1326.2 949.5L1327.7 1018.1L1329.2 973.8L1330.8 979.0L1332.3 1033.1L1333.8 1007.4L1335.3 1064.2L1336.9 989.1L1338.4 1052.8L1339.9 979.6L1341.4 1087.2L1342.9 986.1L1344.5 1043.0L1346.0 1000.0L1347.5 1103.1L1349.0 1046.9L1350.5 1054.8L1352.1 1085.1L1353.6 1102.2L1355.1 1070.4L1356.6 1110.0L1358.2 1070.1L1359.7 1121.1L1361.2 1123.9L1362.7 1099.6L1364.2 1061.0L1365.8 1147.8L1367.3 1163.0L1368.8 1066.7L1370.3 1119.2L1371.8 1127.6L1373.4 1099.0L1374.9 1119.4L1376.4 1088.3L1377.9 1123.7L1379.4 1153.0L1381.0 1104.5L1382.5 1191.5L1384.0 1117.7L1385.5 1197.6L1387.1 1134.6L1388.6 1183.3L1390.1 1143.9L1391.6 1209.8L1393.1 1163.0L1394.7 1178.6L1396.2 1218.4L1397.7 1201.5L1399.2 1240.5L1400.7 1166.3L1402.3 1230.0L1403.8 1184.4L1405.3 1186.8L1406.8 1216.5L1408.3 1211.4L1409.9 1235.7L1411.4 1236.7L1412.9 1237.4L1414.4 1254.2L1416.0 1241.2L1417.5 1256.9L1419.0 1267.1" fill="none" stroke="#e3262d" stroke-width="1.9" stroke-linejoin="round" stroke-opacity="1.0"/>
<text x="119.3" y="627.9" font-size="25.3" text-anchor="end" font-family="'Liberation Serif','Times New Roman',serif">-1000</text>
<text x="119.3" y="567.4" font-size="25.3" text-anchor="end" font-family="'Liberation Serif','Times New Roman',serif">-500</text>
<text x="119.3" y="506.8" font-size="25.3" text-anchor="end" font-family="'Liberation Serif','Times New Roman',serif">0</text>
<text x="119.3" y="446.3" font-size="25.3" text-anchor="end" font-family="'Liberation Serif','Times New Roman',serif">500</text>
<text x="119.3" y="385.8" font-size="25.3" text-anchor="end" font-family="'Liberation Serif','Times New Roman',serif">1000</text>
<text x="119.3" y="325.2" font-size="25.3" text-anchor="end" font-family="'Liberation Serif','Times New Roman',serif">1500</text>
<text x="119.3" y="264.7" font-size="25.3" text-anchor="end" font-family="'Liberation Serif','Times New Roman',serif">2000</text>
<text x="119.3" y="204.2" font-size="25.3" text-anchor="end" font-family="'Liberation Serif','Times New Roman',serif">2500</text>
<text x="119.3" y="143.7" font-size="25.3" text-anchor="end" font-family="'Liberation Serif','Times New Roman',serif">3000</text>
<text x="119.3" y="83.1" font-size="25.3" text-anchor="end" font-family="'Liberation Serif','Times New Roman',serif">3500</text>
<text x="119.3" y="22.6" font-size="25.3" text-anchor="end" font-family="'Liberation Serif','Times New Roman',serif">4000</text>
<text x="141.0" y="536.0" font-size="25.3" text-anchor="middle" font-family="'Liberation Serif','Times New Roman',serif">1000</text>
<text x="258.2" y="536.0" font-size="25.3" text-anchor="middle" font-family="'Liberation Serif','Times New Roman',serif">1100</text>
<text x="375.3" y="536.0" font-size="25.3" text-anchor="middle" font-family="'Liberation Serif','Times New Roman',serif">1200</text>
<text x="492.5" y="536.0" font-size="25.3" text-anchor="middle" font-family="'Liberation Serif','Times New Roman',serif">1300</text>
<text x="609.6" y="536.0" font-size="25.3" text-anchor="middle" font-family="'Liberation Serif','Times New Roman',serif">1400</text>
<text x="726.8" y="536.0" font-size="25.3" text-anchor="middle" font-family="'Liberation Serif','Times New Roman',serif">1500</text>
<text x="843.9" y="536.0" font-size="25.3" text-anchor="middle" font-family="'Liberation Serif','Times New Roman',serif">1600</text>
<text x="961.1" y="536.0" font-size="25.3" text-anchor="middle" font-family="'Liberation Serif','Times New Roman',serif">1700</text>
<text x="1113.5" y="641.7" font-size="25.3" text-anchor="end" font-family="'Liberation Serif','Times New Roman',serif">-1000</text>
<text x="1113.5" y="572.5" font-size="25.3" text-anchor="end" font-family="'Liberation Serif','Times New Roman',serif">-500</text>
<text x="1113.5" y="503.2" font-size="25.3" text-anchor="end" font-family="'Liberation Serif','Times New Roman',serif">0</text>
<text x="1113.5" y="434.0" font-size="25.3" text-anchor="end" font-family="'Liberation Serif','Times New Roman',serif">500</text>
<text x="1113.5" y="364.8" font-size="25.3" text-anchor="end" font-family="'Liberation Serif','Times New Roman',serif">1000</text>
<text x="1113.5" y="295.5" font-size="25.3" text-anchor="end" font-family="'Liberation Serif','Times New Roman',serif">1500</text>
<text x="1113.5" y="226.3" font-size="25.3" text-anchor="end" font-family="'Liberation Serif','Times New Roman',serif">2000</text>
<text x="1113.5" y="157.1" font-size="25.3" text-anchor="end" font-family="'Liberation Serif','Times New Roman',serif">2500</text>
<text x="1113.5" y="87.8" font-size="25.3" text-anchor="end" font-family="'Liberation Serif','Times New Roman',serif">3000</text>
<text x="1113.5" y="18.6" font-size="25.3" text-anchor="end" font-family="'Liberation Serif','Times New Roman',serif">3500</text>
<text x="1135.8" y="533.6" font-size="25.3" text-anchor="middle" font-family="'Liberation Serif','Times New Roman',serif">1000</text>
<text x="1254.2" y="533.6" font-size="25.3" text-anchor="middle" font-family="'Liberation Serif','Times New Roman',serif">1100</text>
<text x="1372.7" y="533.6" font-size="25.3" text-anchor="middle" font-family="'Liberation Serif','Times New Roman',serif">1200</text>
<text x="1491.1" y="533.6" font-size="25.3" text-anchor="middle" font-family="'Liberation Serif','Times New Roman',serif">1300</text>
<text x="1609.6" y="533.6" font-size="25.3" text-anchor="middle" font-family="'Liberation Serif','Times New Roman',serif">1400</text>
<text x="1728.0" y="533.6" font-size="25.3" text-anchor="middle" font-family="'Liberation Serif','Times New Roman',serif">1500</text>
<text x="1846.5" y="533.6" font-size="25.3" text-anchor="middle" font-family="'Liberation Serif','Times New Roman',serif">1600</text>
<text x="1964.9" y="533.6" font-size="25.3" text-anchor="middle" font-family="'Liberation Serif','Times New Roman',serif">1700</text>
<text x="580.2" y="1334.6" font-size="25.3" text-anchor="end" font-family="'Liberation Serif','Times New Roman',serif">-1000</text>
<text x="580.2" y="1293.3" font-size="25.3" text-anchor="end" font-family="'Liberation Serif','Times New Roman',serif">-500</text>
<text x="580.2" y="1252.0" font-size="25.3" text-anchor="end" font-family="'Liberation Serif','Times New Roman',serif">0</text>
<text x="580.2" y="1210.7" font-size="25.3" text-anchor="end" font-family="'Liberation Serif','Times New Roman',serif">500</text>
<text x="580.2" y="1169.3" font-size="25.3" text-anchor="end" font-family="'Liberation Serif','Times New Roman',serif">1000</text>
<text x="580.2" y="1128.0" font-size="25.3" text-anchor="end" font-family="'Liberation Serif','Times New Roman',serif">1500</text>
<text x="580.2" y="1086.7" font-size="25.3" text-anchor="end" font-family="'Liberation Serif','Times New Roman',serif">2000</text>
<text x="580.2" y="1045.4" font-size="25.3" text-anchor="end" font-family="'Liberation Serif','Times New Roman',serif">2500</text>
<text x="580.2" y="1004.1" font-size="25.3" text-anchor="end" font-family="'Liberation Serif','Times New Roman',serif">3000</text>
<text x="580.2" y="962.8" font-size="25.3" text-anchor="end" font-family="'Liberation Serif','Times New Roman',serif">3500</text>
<text x="580.2" y="921.5" font-size="25.3" text-anchor="end" font-family="'Liberation Serif','Times New Roman',serif">4000</text>
<text x="580.2" y="880.2" font-size="25.3" text-anchor="end" font-family="'Liberation Serif','Times New Roman',serif">4500</text>
<text x="580.2" y="838.8" font-size="25.3" text-anchor="end" font-family="'Liberation Serif','Times New Roman',serif">5000</text>
<text x="580.2" y="797.5" font-size="25.3" text-anchor="end" font-family="'Liberation Serif','Times New Roman',serif">5500</text>
<text x="580.2" y="756.2" font-size="25.3" text-anchor="end" font-family="'Liberation Serif','Times New Roman',serif">6000</text>
<text x="580.2" y="714.9" font-size="25.3" text-anchor="end" font-family="'Liberation Serif','Times New Roman',serif">6500</text>
<text x="601.1" y="1279.7" font-size="25.3" text-anchor="middle" font-family="'Liberation Serif','Times New Roman',serif">1000</text>
<text x="718.1" y="1279.7" font-size="25.3" text-anchor="middle" font-family="'Liberation Serif','Times New Roman',serif">1100</text>
<text x="835.1" y="1279.7" font-size="25.3" text-anchor="middle" font-family="'Liberation Serif','Times New Roman',serif">1200</text>
<text x="952.1" y="1279.7" font-size="25.3" text-anchor="middle" font-family="'Liberation Serif','Times New Roman',serif">1300</text>
<text x="1069.2" y="1279.7" font-size="25.3" text-anchor="middle" font-family="'Liberation Serif','Times New Roman',serif">1400</text>
<text x="1186.2" y="1279.7" font-size="25.3" text-anchor="middle" font-family="'Liberation Serif','Times New Roman',serif">1500</text>
<text x="1303.2" y="1279.7" font-size="25.3" text-anchor="middle" font-family="'Liberation Serif','Times New Roman',serif">1600</text>
<text x="1420.2" y="1279.7" font-size="25.3" text-anchor="middle" font-family="'Liberation Serif','Times New Roman',serif">1700</text>
<ellipse cx="500.6" cy="230.2" rx="67.7" ry="163.4" fill="none" stroke="#1a1a1a" stroke-width="1.6"/>
<ellipse cx="829.5" cy="177.0" rx="68.2" ry="163.5" fill="none" stroke="#1a1a1a" stroke-width="1.6"/>
<ellipse cx="1509.7" cy="234.7" rx="68.0" ry="164.3" fill="none" stroke="#1a1a1a" stroke-width="1.6"/>
<ellipse cx="1833.1" cy="197.0" rx="67.9" ry="164.6" fill="none" stroke="#1a1a1a" stroke-width="1.6"/>
<ellipse cx="973.8" cy="891.0" rx="68.2" ry="164.4" fill="none" stroke="#1a1a1a" stroke-width="1.6"/>
<ellipse cx="1293.9" cy="984.7" rx="67.9" ry="163.7" fill="none" stroke="#1a1a1a" stroke-width="1.6"/>
<line x1="191.5" y1="41.8" x2="246.0" y2="41.8" stroke="#c0c0c0" stroke-width="1.6"/><text x="252.0" y="49.0" font-size="25.3" font-family="'Liberation Serif','Times New Roman',serif">Unaged binder+CSNPs</text>
<line x1="191.5" y1="78.6" x2="246.0" y2="78.6" stroke="#000000" stroke-width="2.8"/><text x="252.0" y="86.0" font-size="25.3" font-family="'Liberation Serif','Times New Roman',serif">Unaged binder</text>
<line x1="1157.6" y1="42.7" x2="1212.6" y2="42.7" stroke="#22b06a" stroke-width="1.6"/><text x="1217.0" y="49.7" font-size="25.3" font-family="'Liberation Serif','Times New Roman',serif">RTFO aged binder+CSNPs</text>
<line x1="1157.6" y1="83.1" x2="1212.6" y2="83.1" stroke="#f7ca4a" stroke-width="1.6"/><text x="1217.0" y="91.5" font-size="25.3" font-family="'Liberation Serif','Times New Roman',serif">RTFO aged binder</text>
<line x1="626.6" y1="736.8" x2="681.2" y2="736.8" stroke="#2a7bc4" stroke-width="1.6"/><text x="685.5" y="743.9" font-size="25.3" font-family="'Liberation Serif','Times New Roman',serif">PAV aged binder+CSNPs</text>
<line x1="626.6" y1="774.3" x2="681.2" y2="774.3" stroke="#e3262d" stroke-width="1.6"/><text x="685.5" y="781.2" font-size="25.3" font-family="'Liberation Serif','Times New Roman',serif">PAV aged binder</text>
<text x="523.2" y="60.8" font-size="29" font-family="'Liberation Serif','Times New Roman',serif">D</text>
<text x="882.8" y="44.2" font-size="29" font-family="'Liberation Serif','Times New Roman',serif">G</text>
<text x="1534.5" y="65.6" font-size="29" font-family="'Liberation Serif','Times New Roman',serif">D</text>
<text x="1879.5" y="42.0" font-size="29" font-family="'Liberation Serif','Times New Roman',serif">G</text>
<text x="1020.2" y="743.0" font-size="29" font-family="'Liberation Serif','Times New Roman',serif">D</text>
<text x="1333.8" y="817.3" font-size="29" font-family="'Liberation Serif','Times New Roman',serif">G</text>
<text x="0" y="0" transform="translate(36.8 307.6) rotate(-90)" font-size="28.1" text-anchor="middle" font-family="'Liberation Serif','Times New Roman',serif">Raman Intensity (arbitary units)</text>
<text x="0" y="0" transform="translate(1039.9 322.8) rotate(-90)" font-size="28.1" text-anchor="middle" font-family="'Liberation Serif','Times New Roman',serif">Raman Intensity (arbitary units)</text>
<text x="0" y="0" transform="translate(491.3 1015.2) rotate(-90)" font-size="28.1" text-anchor="middle" font-family="'Liberation Serif','Times New Roman',serif">Raman Intensity (arbitary units)</text>
<text x="449.2" y="678.4" font-size="28.2" font-family="'Liberation Serif','Times New Roman',serif">Raman Shift (cm<tspan font-size="19" dy="-8.5">-1</tspan><tspan dy="8.5">)</tspan></text>
<text x="1441.5" y="675.5" font-size="28.2" font-family="'Liberation Serif','Times New Roman',serif">Raman Shift (cm<tspan font-size="19" dy="-8.5">-1</tspan><tspan dy="8.5">)</tspan></text>
<text x="901.2" y="1378.3" font-size="28.2" font-family="'Liberation Serif','Times New Roman',serif">Raman Shift (cm<tspan font-size="19" dy="-8.5">-1</tspan><tspan dy="8.5">)</tspan></text>
<text x="2.5" y="681.8" font-size="38" font-family="'Liberation Serif','Times New Roman',serif">a)</text>
<text x="1013.0" y="676.2" font-size="38" font-family="'Liberation Serif','Times New Roman',serif">b)</text>
<text x="463.0" y="1372.0" font-size="38" font-family="'Liberation Serif','Times New Roman',serif">c)</text>
</svg>
</body></html>
